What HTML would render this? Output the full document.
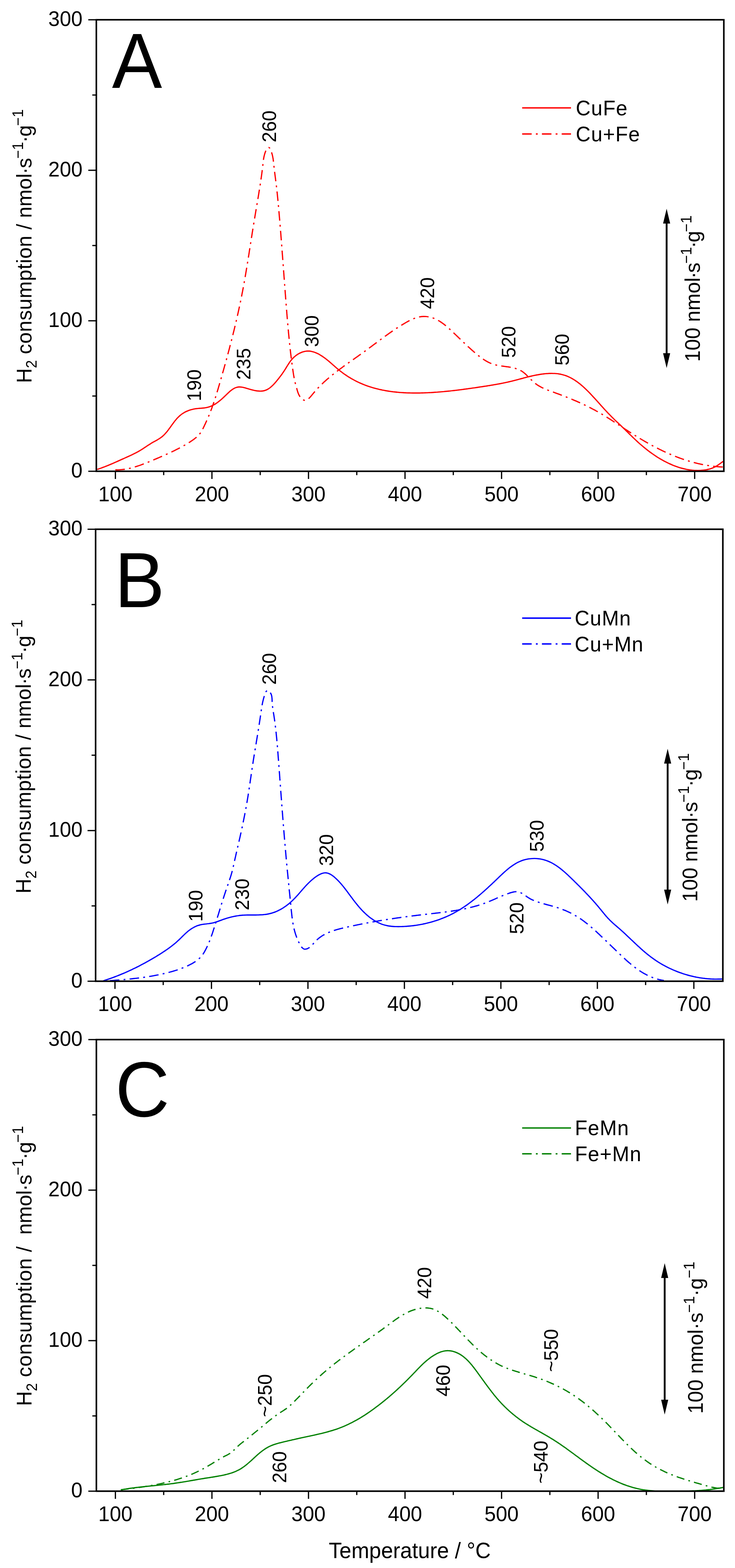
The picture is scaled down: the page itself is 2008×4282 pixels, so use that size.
<!DOCTYPE html><html><head><meta charset="utf-8"><title>H2-TPR profiles</title>
<style>html,body{margin:0;padding:0;background:#fff;overflow:hidden;}svg{display:block;}text{font-family:'Liberation Sans', Arial, sans-serif;fill:#000;}</style></head><body>
<svg width="2008" height="4282" viewBox="0 0 2008 4282">
<rect width="2008" height="4282" fill="#fff"/>
<clipPath id="clipA"><rect x="263.2" y="49.0" width="1714.3" height="1238.0"/></clipPath>
<g clip-path="url(#clipA)" fill="none" stroke="#ff0000" stroke-width="3.4" stroke-linejoin="round">
<path d="M265.5,1281.9 C266.5,1281.6 269.4,1280.6 271.3,1280.0 C273.2,1279.3 275.1,1278.7 277.0,1278.0 C278.9,1277.3 280.7,1276.6 282.6,1275.9 C284.5,1275.2 286.4,1274.5 288.3,1273.7 C290.1,1273.0 292.0,1272.3 293.9,1271.5 C295.7,1270.7 297.6,1270.0 299.4,1269.2 C301.3,1268.4 303.1,1267.6 305.0,1266.9 C306.8,1266.1 308.7,1265.3 310.5,1264.5 C312.4,1263.7 314.2,1262.8 316.1,1262.0 C317.9,1261.2 319.7,1260.4 321.6,1259.6 C323.4,1258.8 325.2,1257.9 327.1,1257.1 C328.9,1256.3 330.7,1255.5 332.6,1254.6 C334.4,1253.8 336.3,1253.0 338.1,1252.2 C339.9,1251.3 341.8,1250.5 343.6,1249.7 C345.4,1248.9 347.3,1248.1 349.1,1247.2 C350.9,1246.4 352.8,1245.6 354.6,1244.7 C356.4,1243.9 358.2,1243.0 360.0,1242.2 C361.9,1241.3 363.7,1240.4 365.5,1239.5 C367.3,1238.6 369.1,1237.7 370.9,1236.8 C372.6,1235.9 374.4,1234.9 376.2,1234.0 C378.0,1233.0 379.7,1232.0 381.4,1231.0 C383.2,1230.0 384.9,1229.0 386.6,1227.9 C388.3,1226.8 390.0,1225.7 391.7,1224.6 C393.4,1223.5 395.0,1222.4 396.7,1221.3 C398.4,1220.2 400.0,1219.0 401.7,1217.9 C403.4,1216.8 405.1,1215.7 406.8,1214.6 C408.4,1213.5 410.1,1212.4 411.9,1211.4 C413.6,1210.3 415.3,1209.3 417.1,1208.3 C418.8,1207.3 420.6,1206.4 422.3,1205.4 C424.1,1204.4 425.9,1203.5 427.6,1202.5 C429.3,1201.5 431.1,1200.5 432.8,1199.4 C434.5,1198.4 436.2,1197.3 437.9,1196.1 C439.5,1195.0 441.2,1193.8 442.7,1192.6 C444.3,1191.3 445.8,1190.0 447.3,1188.6 C448.7,1187.2 450.1,1185.7 451.5,1184.2 C452.8,1182.8 454.1,1181.2 455.4,1179.7 C456.7,1178.1 457.9,1176.5 459.1,1174.9 C460.3,1173.3 461.5,1171.7 462.7,1170.1 C463.9,1168.5 465.1,1166.8 466.3,1165.2 C467.4,1163.6 468.6,1161.9 469.8,1160.3 C471.0,1158.7 472.2,1157.0 473.4,1155.4 C474.6,1153.8 475.8,1152.2 477.0,1150.6 C478.3,1149.1 479.5,1147.5 480.8,1146.0 C482.1,1144.4 483.4,1142.9 484.8,1141.4 C486.2,1140.0 487.6,1138.5 489.1,1137.2 C490.5,1135.8 492.1,1134.5 493.6,1133.2 C495.2,1131.9 496.8,1130.7 498.5,1129.6 C500.1,1128.5 501.8,1127.4 503.6,1126.4 C505.3,1125.4 507.1,1124.5 509.0,1123.6 C510.8,1122.8 512.6,1122.0 514.5,1121.3 C516.4,1120.6 518.3,1119.9 520.2,1119.3 C522.1,1118.7 524.1,1118.2 526.0,1117.8 C528.0,1117.3 530.0,1116.9 532.0,1116.6 C533.9,1116.3 535.9,1116.0 537.9,1115.8 C539.9,1115.5 541.9,1115.4 543.9,1115.2 C545.9,1115.0 547.9,1114.9 550.0,1114.8 C552.0,1114.6 554.0,1114.4 556.0,1114.2 C558.0,1114.0 560.0,1113.8 561.9,1113.4 C563.9,1113.1 565.9,1112.7 567.8,1112.2 C569.8,1111.7 571.7,1111.1 573.6,1110.4 C575.5,1109.7 577.4,1108.9 579.2,1108.1 C581.0,1107.2 582.8,1106.3 584.6,1105.3 C586.3,1104.4 588.0,1103.3 589.7,1102.2 C591.4,1101.1 593.0,1100.0 594.7,1098.8 C596.3,1097.6 597.9,1096.3 599.4,1095.1 C601.0,1093.8 602.5,1092.5 604.1,1091.2 C605.6,1089.9 607.1,1088.5 608.6,1087.2 C610.0,1085.8 611.5,1084.4 613.0,1083.1 C614.4,1081.7 615.9,1080.3 617.3,1078.9 C618.8,1077.5 620.2,1076.1 621.6,1074.7 C623.1,1073.3 624.6,1071.9 626.1,1070.6 C627.6,1069.2 629.1,1067.9 630.7,1066.7 C632.2,1065.4 633.8,1064.2 635.5,1063.1 C637.2,1062.0 638.9,1060.9 640.7,1060.1 C642.5,1059.2 644.4,1058.4 646.3,1057.9 C648.3,1057.3 650.3,1057.0 652.3,1056.8 C654.3,1056.7 656.3,1056.8 658.3,1057.0 C660.3,1057.2 662.3,1057.5 664.3,1057.9 C666.2,1058.3 668.2,1058.9 670.1,1059.4 C672.1,1059.9 674.0,1060.5 675.9,1061.1 C677.8,1061.6 679.8,1062.2 681.7,1062.8 C683.6,1063.4 685.6,1063.9 687.5,1064.4 C689.4,1065.0 691.4,1065.4 693.4,1065.9 C695.3,1066.3 697.3,1066.7 699.3,1067.0 C701.3,1067.4 703.3,1067.6 705.3,1067.8 C707.3,1068.0 709.3,1068.1 711.3,1068.1 C713.3,1068.1 715.3,1068.0 717.3,1067.7 C719.3,1067.4 721.3,1067.0 723.2,1066.5 C725.1,1065.9 727.0,1065.2 728.8,1064.4 C730.7,1063.5 732.4,1062.5 734.1,1061.4 C735.8,1060.3 737.4,1059.1 739.0,1057.8 C740.5,1056.6 742.0,1055.2 743.5,1053.8 C744.9,1052.5 746.4,1051.0 747.7,1049.6 C749.1,1048.1 750.5,1046.6 751.8,1045.1 C753.1,1043.6 754.4,1042.0 755.7,1040.5 C757.0,1039.0 758.3,1037.4 759.5,1035.8 C760.8,1034.3 762.1,1032.7 763.3,1031.1 C764.5,1029.5 765.7,1027.9 766.9,1026.3 C768.1,1024.7 769.3,1023.1 770.5,1021.4 C771.7,1019.8 772.8,1018.1 773.9,1016.5 C775.1,1014.8 776.2,1013.1 777.3,1011.4 C778.3,1009.7 779.4,1008.0 780.5,1006.3 C781.5,1004.6 782.6,1002.9 783.6,1001.2 C784.7,999.5 785.7,997.8 786.8,996.1 C787.9,994.4 789.0,992.7 790.1,991.0 C791.2,989.4 792.4,987.7 793.6,986.1 C794.8,984.5 796.1,982.9 797.4,981.4 C798.7,979.9 800.1,978.4 801.5,977.0 C802.9,975.6 804.4,974.2 806.0,973.0 C807.5,971.7 809.1,970.4 810.8,969.3 C812.4,968.2 814.1,967.1 815.9,966.1 C817.6,965.1 819.4,964.2 821.3,963.4 C823.1,962.5 825.0,961.8 826.9,961.2 C828.8,960.6 830.8,960.1 832.7,959.7 C834.7,959.3 836.7,959.0 838.7,958.8 C840.7,958.7 842.7,958.7 844.7,958.8 C846.7,958.9 848.7,959.2 850.7,959.6 C852.7,960.0 854.6,960.5 856.6,961.1 C858.5,961.6 860.4,962.3 862.2,963.1 C864.1,963.8 865.9,964.7 867.7,965.6 C869.5,966.5 871.3,967.4 873.1,968.4 C874.8,969.4 876.5,970.5 878.2,971.5 C879.9,972.6 881.6,973.7 883.2,974.9 C884.9,976.0 886.5,977.2 888.1,978.4 C889.7,979.6 891.3,980.9 892.9,982.1 C894.5,983.4 896.0,984.6 897.6,985.9 C899.1,987.2 900.7,988.5 902.2,989.8 C903.7,991.2 905.2,992.5 906.7,993.8 C908.2,995.1 909.7,996.5 911.3,997.8 C912.8,999.1 914.3,1000.5 915.8,1001.8 C917.3,1003.1 918.8,1004.4 920.3,1005.7 C921.9,1007.0 923.4,1008.3 925.0,1009.6 C926.5,1010.9 928.1,1012.1 929.7,1013.4 C931.3,1014.6 932.9,1015.8 934.5,1017.0 C936.1,1018.2 937.7,1019.4 939.3,1020.6 C941.0,1021.8 942.6,1022.9 944.3,1024.0 C946.0,1025.2 947.6,1026.3 949.3,1027.4 C951.0,1028.5 952.7,1029.5 954.4,1030.6 C956.2,1031.6 957.9,1032.7 959.6,1033.7 C961.4,1034.7 963.1,1035.7 964.9,1036.6 C966.6,1037.6 968.4,1038.6 970.2,1039.5 C972.0,1040.4 973.8,1041.3 975.6,1042.2 C977.4,1043.1 979.2,1044.0 981.0,1044.8 C982.9,1045.6 984.7,1046.5 986.5,1047.2 C988.4,1048.0 990.2,1048.8 992.1,1049.6 C994.0,1050.3 995.9,1051.1 997.7,1051.8 C999.6,1052.5 1001.5,1053.2 1003.4,1053.9 C1005.3,1054.5 1007.2,1055.2 1009.1,1055.8 C1011.0,1056.4 1012.9,1057.0 1014.9,1057.6 C1016.8,1058.2 1018.7,1058.8 1020.6,1059.3 C1022.6,1059.9 1024.5,1060.4 1026.5,1060.9 C1028.4,1061.5 1030.4,1061.9 1032.3,1062.4 C1034.3,1062.9 1036.2,1063.3 1038.2,1063.8 C1040.1,1064.2 1042.1,1064.6 1044.1,1065.1 C1046.1,1065.5 1048.0,1065.8 1050.0,1066.2 C1052.0,1066.6 1054.0,1066.9 1055.9,1067.3 C1057.9,1067.6 1059.9,1067.9 1061.9,1068.2 C1063.9,1068.5 1065.9,1068.8 1067.9,1069.1 C1069.9,1069.4 1071.9,1069.6 1073.9,1069.9 C1075.9,1070.1 1077.9,1070.3 1079.9,1070.5 C1081.9,1070.8 1083.9,1071.0 1085.9,1071.1 C1087.9,1071.3 1089.9,1071.5 1091.9,1071.7 C1093.9,1071.8 1095.9,1072.0 1097.9,1072.1 C1099.9,1072.2 1101.9,1072.4 1103.9,1072.5 C1105.9,1072.6 1107.9,1072.7 1109.9,1072.8 C1111.9,1072.8 1114.0,1072.9 1116.0,1073.0 C1118.0,1073.0 1120.0,1073.1 1122.0,1073.1 C1124.0,1073.2 1126.0,1073.2 1128.0,1073.2 C1130.0,1073.3 1132.1,1073.3 1134.1,1073.3 C1136.1,1073.3 1138.1,1073.3 1140.1,1073.2 C1142.1,1073.2 1144.1,1073.2 1146.1,1073.2 C1148.1,1073.1 1150.2,1073.1 1152.2,1073.0 C1154.2,1073.0 1156.2,1072.9 1158.2,1072.9 C1160.2,1072.8 1162.2,1072.7 1164.2,1072.6 C1166.2,1072.6 1168.2,1072.5 1170.3,1072.4 C1172.3,1072.3 1174.3,1072.2 1176.3,1072.1 C1178.3,1071.9 1180.3,1071.8 1182.3,1071.7 C1184.3,1071.6 1186.3,1071.4 1188.3,1071.3 C1190.3,1071.2 1192.3,1071.0 1194.3,1070.9 C1196.3,1070.7 1198.4,1070.6 1200.4,1070.4 C1202.4,1070.2 1204.4,1070.1 1206.4,1069.9 C1208.4,1069.7 1210.4,1069.5 1212.4,1069.4 C1214.4,1069.2 1216.4,1069.0 1218.4,1068.8 C1220.4,1068.6 1222.4,1068.4 1224.4,1068.2 C1226.4,1068.0 1228.4,1067.8 1230.4,1067.6 C1232.4,1067.3 1234.4,1067.1 1236.4,1066.9 C1238.4,1066.7 1240.4,1066.4 1242.4,1066.2 C1244.4,1066.0 1246.4,1065.7 1248.4,1065.5 C1250.4,1065.2 1252.4,1065.0 1254.4,1064.7 C1256.4,1064.5 1258.4,1064.2 1260.3,1064.0 C1262.3,1063.7 1264.3,1063.5 1266.3,1063.2 C1268.3,1062.9 1270.3,1062.7 1272.3,1062.4 C1274.3,1062.1 1276.3,1061.9 1278.3,1061.6 C1280.3,1061.3 1282.3,1061.0 1284.3,1060.8 C1286.3,1060.5 1288.2,1060.2 1290.2,1059.9 C1292.2,1059.6 1294.2,1059.3 1296.2,1059.1 C1298.2,1058.8 1300.2,1058.5 1302.2,1058.2 C1304.2,1057.9 1306.2,1057.6 1308.2,1057.3 C1310.1,1057.0 1312.1,1056.7 1314.1,1056.4 C1316.1,1056.1 1318.1,1055.8 1320.1,1055.5 C1322.1,1055.2 1324.1,1054.9 1326.1,1054.6 C1328.0,1054.3 1330.0,1054.0 1332.0,1053.7 C1334.0,1053.4 1336.0,1053.0 1338.0,1052.7 C1340.0,1052.4 1341.9,1052.1 1343.9,1051.7 C1345.9,1051.4 1347.9,1051.1 1349.9,1050.7 C1351.9,1050.4 1353.8,1050.0 1355.8,1049.7 C1357.8,1049.3 1359.8,1049.0 1361.7,1048.6 C1363.7,1048.2 1365.7,1047.8 1367.7,1047.5 C1369.7,1047.1 1371.6,1046.7 1373.6,1046.3 C1375.6,1045.9 1377.5,1045.5 1379.5,1045.1 C1381.5,1044.7 1383.4,1044.2 1385.4,1043.8 C1387.4,1043.4 1389.3,1042.9 1391.3,1042.5 C1393.2,1042.0 1395.2,1041.5 1397.2,1041.1 C1399.1,1040.6 1401.1,1040.1 1403.0,1039.6 C1405.0,1039.1 1406.9,1038.6 1408.9,1038.1 C1410.8,1037.6 1412.7,1037.1 1414.7,1036.6 C1416.6,1036.1 1418.6,1035.6 1420.5,1035.0 C1422.5,1034.5 1424.4,1034.0 1426.4,1033.5 C1428.3,1033.0 1430.2,1032.4 1432.2,1031.9 C1434.1,1031.4 1436.1,1030.9 1438.0,1030.4 C1440.0,1029.9 1441.9,1029.4 1443.9,1028.9 C1445.8,1028.5 1447.8,1028.0 1449.7,1027.5 C1451.7,1027.1 1453.7,1026.6 1455.6,1026.2 C1457.6,1025.8 1459.6,1025.3 1461.5,1024.9 C1463.5,1024.5 1465.5,1024.1 1467.4,1023.8 C1469.4,1023.4 1471.4,1023.0 1473.4,1022.7 C1475.4,1022.4 1477.4,1022.1 1479.4,1021.8 C1481.3,1021.5 1483.3,1021.3 1485.3,1021.0 C1487.3,1020.8 1489.3,1020.6 1491.3,1020.4 C1493.3,1020.2 1495.3,1020.1 1497.4,1020.0 C1499.4,1019.8 1501.4,1019.8 1503.4,1019.7 C1505.4,1019.7 1507.4,1019.6 1509.4,1019.7 C1511.4,1019.7 1513.4,1019.8 1515.4,1019.9 C1517.5,1020.0 1519.5,1020.2 1521.5,1020.4 C1523.5,1020.6 1525.5,1020.8 1527.4,1021.2 C1529.4,1021.5 1531.4,1021.8 1533.4,1022.3 C1535.3,1022.7 1537.3,1023.2 1539.2,1023.8 C1541.1,1024.3 1543.1,1024.9 1545.0,1025.6 C1546.9,1026.3 1548.7,1027.0 1550.6,1027.8 C1552.4,1028.6 1554.3,1029.4 1556.1,1030.3 C1557.9,1031.1 1559.7,1032.1 1561.4,1033.0 C1563.2,1034.0 1565.0,1035.0 1566.7,1036.1 C1568.4,1037.1 1570.1,1038.2 1571.8,1039.3 C1573.4,1040.4 1575.1,1041.6 1576.7,1042.7 C1578.3,1043.9 1580.0,1045.1 1581.5,1046.3 C1583.1,1047.6 1584.7,1048.8 1586.3,1050.1 C1587.8,1051.4 1589.3,1052.7 1590.9,1054.0 C1592.4,1055.3 1593.9,1056.7 1595.4,1058.0 C1596.8,1059.4 1598.3,1060.8 1599.8,1062.2 C1601.2,1063.5 1602.7,1064.9 1604.1,1066.4 C1605.5,1067.8 1606.9,1069.2 1608.4,1070.6 C1609.8,1072.1 1611.2,1073.5 1612.6,1075.0 C1613.9,1076.4 1615.3,1077.9 1616.7,1079.4 C1618.1,1080.8 1619.4,1082.3 1620.8,1083.8 C1622.2,1085.3 1623.5,1086.7 1624.9,1088.2 C1626.2,1089.7 1627.6,1091.2 1628.9,1092.7 C1630.3,1094.2 1631.6,1095.7 1633.0,1097.2 C1634.3,1098.7 1635.7,1100.2 1637.0,1101.7 C1638.3,1103.2 1639.7,1104.7 1641.0,1106.2 C1642.4,1107.6 1643.7,1109.1 1645.1,1110.6 C1646.4,1112.1 1647.8,1113.6 1649.1,1115.1 C1650.5,1116.6 1651.8,1118.1 1653.2,1119.6 C1654.6,1121.0 1655.9,1122.5 1657.3,1124.0 C1658.7,1125.5 1660.1,1126.9 1661.4,1128.4 C1662.8,1129.8 1664.2,1131.3 1665.6,1132.7 C1667.0,1134.2 1668.4,1135.6 1669.8,1137.0 C1671.2,1138.5 1672.7,1139.9 1674.1,1141.3 C1675.5,1142.7 1677.0,1144.1 1678.4,1145.5 C1679.9,1146.9 1681.3,1148.3 1682.8,1149.7 C1684.2,1151.1 1685.7,1152.4 1687.2,1153.8 C1688.6,1155.2 1690.1,1156.6 1691.6,1158.0 C1693.0,1159.3 1694.5,1160.7 1696.0,1162.1 C1697.4,1163.5 1698.9,1164.9 1700.3,1166.3 C1701.8,1167.7 1703.2,1169.1 1704.6,1170.5 C1706.1,1171.9 1707.5,1173.3 1709.0,1174.7 C1710.4,1176.1 1711.8,1177.5 1713.3,1178.9 C1714.7,1180.3 1716.1,1181.7 1717.6,1183.2 C1719.0,1184.6 1720.4,1186.0 1721.9,1187.4 C1723.3,1188.8 1724.7,1190.2 1726.2,1191.6 C1727.6,1193.0 1729.1,1194.4 1730.5,1195.8 C1732.0,1197.2 1733.4,1198.6 1734.9,1200.0 C1736.4,1201.3 1737.8,1202.7 1739.3,1204.1 C1740.8,1205.4 1742.3,1206.8 1743.7,1208.2 C1745.2,1209.5 1746.7,1210.9 1748.2,1212.2 C1749.8,1213.5 1751.3,1214.8 1752.8,1216.1 C1754.3,1217.5 1755.9,1218.8 1757.4,1220.0 C1758.9,1221.3 1760.5,1222.6 1762.1,1223.9 C1763.6,1225.2 1765.2,1226.4 1766.8,1227.6 C1768.3,1228.9 1769.9,1230.1 1771.5,1231.3 C1773.1,1232.6 1774.7,1233.8 1776.4,1235.0 C1778.0,1236.1 1779.6,1237.3 1781.3,1238.5 C1782.9,1239.7 1784.6,1240.8 1786.2,1241.9 C1787.9,1243.1 1789.5,1244.2 1791.2,1245.3 C1792.9,1246.4 1794.6,1247.5 1796.3,1248.6 C1798.0,1249.6 1799.7,1250.7 1801.4,1251.7 C1803.2,1252.8 1804.9,1253.8 1806.6,1254.8 C1808.4,1255.8 1810.1,1256.8 1811.9,1257.7 C1813.7,1258.7 1815.4,1259.6 1817.2,1260.6 C1819.0,1261.5 1820.8,1262.4 1822.6,1263.3 C1824.4,1264.2 1826.2,1265.0 1828.1,1265.9 C1829.9,1266.7 1831.7,1267.6 1833.6,1268.4 C1835.4,1269.2 1837.3,1269.9 1839.1,1270.7 C1841.0,1271.5 1842.9,1272.2 1844.7,1272.9 C1846.6,1273.6 1848.5,1274.3 1850.4,1274.9 C1852.3,1275.6 1854.2,1276.2 1856.2,1276.8 C1858.1,1277.4 1860.0,1278.0 1861.9,1278.5 C1863.9,1279.1 1865.8,1279.6 1867.8,1280.0 C1869.7,1280.5 1871.7,1281.0 1873.7,1281.4 C1875.6,1281.8 1877.6,1282.2 1879.6,1282.5 C1881.6,1282.9 1883.6,1283.2 1885.6,1283.4 C1887.5,1283.7 1889.5,1283.9 1891.5,1284.1 C1893.5,1284.3 1895.6,1284.5 1897.6,1284.6 C1899.6,1284.7 1901.6,1284.8 1903.6,1284.8 C1905.6,1284.9 1907.6,1284.9 1909.6,1284.8 C1911.6,1284.8 1913.6,1284.7 1915.6,1284.5 C1917.7,1284.4 1919.7,1284.2 1921.7,1284.0 C1923.7,1283.8 1925.6,1283.5 1927.6,1283.2 C1929.6,1282.8 1931.6,1282.5 1933.6,1282.0 C1935.5,1281.6 1937.5,1281.1 1939.4,1280.6 C1941.3,1280.0 1943.3,1279.4 1945.1,1278.7 C1947.0,1278.0 1948.9,1277.2 1950.7,1276.3 C1952.5,1275.5 1954.3,1274.5 1956.0,1273.5 C1957.8,1272.5 1959.5,1271.4 1961.1,1270.3 C1962.8,1269.2 1964.5,1268.1 1966.1,1266.9 C1967.8,1265.7 1969.4,1264.5 1971.0,1263.4 C1972.6,1262.2 1975.1,1260.4 1975.9,1259.9"/>
<path d="M315.1,1283.0 C316.1,1283.0 319.1,1283.1 321.1,1283.1 C323.1,1283.1 325.1,1283.0 327.1,1282.9 C329.1,1282.8 331.1,1282.6 333.1,1282.4 C335.1,1282.2 337.1,1282.0 339.1,1281.7 C341.1,1281.5 343.1,1281.1 345.0,1280.8 C347.0,1280.5 349.0,1280.1 350.9,1279.7 C352.9,1279.3 354.9,1278.8 356.8,1278.4 C358.8,1277.9 360.7,1277.4 362.6,1276.9 C364.6,1276.3 366.5,1275.8 368.4,1275.2 C370.4,1274.6 372.3,1274.0 374.2,1273.4 C376.1,1272.8 378.0,1272.2 379.9,1271.5 C381.8,1270.9 383.7,1270.2 385.6,1269.5 C387.5,1268.8 389.3,1268.1 391.2,1267.4 C393.1,1266.7 395.0,1265.9 396.8,1265.2 C398.7,1264.5 400.6,1263.7 402.4,1263.0 C404.3,1262.2 406.1,1261.5 408.0,1260.7 C409.8,1259.9 411.7,1259.2 413.5,1258.4 C415.4,1257.6 417.2,1256.8 419.1,1256.1 C420.9,1255.3 422.8,1254.5 424.6,1253.7 C426.5,1252.9 428.3,1252.2 430.2,1251.4 C432.0,1250.6 433.9,1249.8 435.7,1249.0 C437.6,1248.2 439.4,1247.4 441.3,1246.6 C443.1,1245.8 444.9,1245.0 446.8,1244.2 C448.6,1243.4 450.5,1242.6 452.3,1241.8 C454.1,1241.0 455.9,1240.2 457.8,1239.3 C459.6,1238.5 461.4,1237.7 463.2,1236.8 C465.1,1236.0 466.9,1235.1 468.7,1234.3 C470.5,1233.4 472.3,1232.5 474.1,1231.7 C475.9,1230.8 477.7,1229.9 479.5,1229.0 C481.3,1228.1 483.1,1227.2 484.9,1226.3 C486.7,1225.4 488.5,1224.5 490.3,1223.5 C492.0,1222.6 493.8,1221.7 495.6,1220.7 C497.3,1219.8 499.1,1218.8 500.9,1217.8 C502.6,1216.8 504.3,1215.8 506.1,1214.8 C507.8,1213.8 509.6,1212.8 511.3,1211.8 C513.0,1210.7 514.7,1209.7 516.4,1208.6 C518.1,1207.5 519.8,1206.4 521.4,1205.3 C523.1,1204.2 524.8,1203.1 526.4,1201.9 C528.0,1200.8 529.7,1199.6 531.3,1198.4 C532.9,1197.2 534.4,1195.9 536.0,1194.6 C537.5,1193.3 539.0,1192.0 540.4,1190.6 C541.8,1189.2 543.2,1187.7 544.5,1186.2 C545.8,1184.6 547.0,1183.0 548.2,1181.4 C549.3,1179.7 550.3,1178.0 551.3,1176.3 C552.3,1174.5 553.2,1172.7 554.2,1171.0 C555.1,1169.2 556.0,1167.4 556.9,1165.6 C557.8,1163.8 558.6,1162.0 559.5,1160.1 C560.4,1158.3 561.2,1156.5 562.0,1154.7 C562.9,1152.9 563.7,1151.1 564.5,1149.2 C565.4,1147.4 566.2,1145.5 567.0,1143.7 C567.8,1141.9 568.6,1140.0 569.3,1138.2 C570.1,1136.3 570.9,1134.5 571.6,1132.6 C572.4,1130.7 573.1,1128.9 573.9,1127.0 C574.6,1125.2 575.3,1123.3 576.0,1121.4 C576.8,1119.5 577.5,1117.7 578.2,1115.8 C578.9,1113.9 579.6,1112.0 580.2,1110.1 C580.9,1108.2 581.6,1106.3 582.2,1104.4 C582.9,1102.5 583.6,1100.7 584.2,1098.8 C584.9,1096.9 585.5,1094.9 586.1,1093.0 C586.7,1091.1 587.4,1089.2 588.0,1087.3 C588.6,1085.4 589.2,1083.5 589.8,1081.6 C590.4,1079.7 591.0,1077.7 591.6,1075.8 C592.2,1073.9 592.8,1072.0 593.3,1070.1 C593.9,1068.1 594.5,1066.2 595.1,1064.3 C595.6,1062.4 596.2,1060.5 596.8,1058.5 C597.3,1056.6 597.9,1054.7 598.5,1052.7 C599.0,1050.8 599.6,1048.9 600.1,1047.0 C600.7,1045.0 601.3,1043.1 601.8,1041.2 C602.4,1039.3 602.9,1037.3 603.5,1035.4 C604.0,1033.5 604.6,1031.5 605.1,1029.6 C605.7,1027.7 606.3,1025.8 606.8,1023.8 C607.4,1021.9 607.9,1020.0 608.4,1018.0 C609.0,1016.1 609.5,1014.2 610.1,1012.2 C610.6,1010.3 611.2,1008.4 611.7,1006.4 C612.3,1004.5 612.8,1002.6 613.3,1000.6 C613.9,998.7 614.4,996.8 615.0,994.8 C615.5,992.9 616.0,991.0 616.6,989.0 C617.1,987.1 617.6,985.2 618.2,983.2 C618.7,981.3 619.2,979.4 619.7,977.4 C620.3,975.5 620.8,973.6 621.3,971.6 C621.8,969.7 622.4,967.7 622.9,965.8 C623.4,963.9 623.9,961.9 624.4,960.0 C625.0,958.1 625.5,956.1 626.0,954.2 C626.5,952.2 627.0,950.3 627.5,948.4 C628.0,946.4 628.5,944.5 629.0,942.5 C629.5,940.6 630.1,938.6 630.6,936.7 C631.1,934.8 631.6,932.8 632.1,930.9 C632.6,928.9 633.0,927.0 633.5,925.0 C634.0,923.1 634.5,921.1 635.0,919.2 C635.5,917.3 636.0,915.3 636.5,913.4 C637.0,911.4 637.4,909.5 637.9,907.5 C638.4,905.6 638.9,903.6 639.4,901.7 C639.8,899.7 640.3,897.8 640.8,895.8 C641.3,893.9 641.7,891.9 642.2,890.0 C642.7,888.0 643.1,886.1 643.6,884.1 C644.1,882.2 644.5,880.2 645.0,878.2 C645.4,876.3 645.9,874.3 646.3,872.4 C646.8,870.4 647.2,868.5 647.7,866.5 C648.1,864.6 648.6,862.6 649.0,860.6 C649.5,858.7 649.9,856.7 650.3,854.8 C650.8,852.8 651.2,850.9 651.6,848.9 C652.1,846.9 652.5,845.0 652.9,843.0 C653.3,841.0 653.8,839.1 654.2,837.1 C654.6,835.2 655.0,833.2 655.4,831.2 C655.9,829.3 656.3,827.3 656.7,825.3 C657.1,823.4 657.5,821.4 657.9,819.4 C658.3,817.5 658.7,815.5 659.1,813.5 C659.5,811.6 659.9,809.6 660.3,807.6 C660.7,805.7 661.0,803.7 661.4,801.7 C661.8,799.8 662.2,797.8 662.6,795.8 C662.9,793.9 663.3,791.9 663.7,789.9 C664.1,787.9 664.4,786.0 664.8,784.0 C665.2,782.0 665.5,780.0 665.9,778.1 C666.2,776.1 666.6,774.1 667.0,772.1 C667.3,770.2 667.7,768.2 668.0,766.2 C668.4,764.2 668.7,762.3 669.1,760.3 C669.4,758.3 669.8,756.3 670.1,754.4 C670.4,752.4 670.8,750.4 671.1,748.4 C671.4,746.4 671.8,744.5 672.1,742.5 C672.5,740.5 672.8,738.5 673.1,736.6 C673.4,734.6 673.8,732.6 674.1,730.6 C674.4,728.6 674.8,726.7 675.1,724.7 C675.4,722.7 675.7,720.7 676.0,718.7 C676.4,716.8 676.7,714.8 677.0,712.8 C677.3,710.8 677.6,708.8 678.0,706.8 C678.3,704.9 678.6,702.9 678.9,700.9 C679.2,698.9 679.5,696.9 679.9,695.0 C680.2,693.0 680.5,691.0 680.8,689.0 C681.1,687.0 681.4,685.0 681.7,683.1 C682.0,681.1 682.4,679.1 682.7,677.1 C683.0,675.1 683.3,673.1 683.6,671.2 C683.9,669.2 684.2,667.2 684.5,665.2 C684.9,663.2 685.2,661.3 685.5,659.3 C685.8,657.3 686.1,655.3 686.4,653.3 C686.7,651.3 687.0,649.4 687.3,647.4 C687.7,645.4 688.0,643.4 688.3,641.4 C688.6,639.4 688.9,637.5 689.2,635.5 C689.5,633.5 689.9,631.5 690.2,629.5 C690.5,627.6 690.8,625.6 691.1,623.6 C691.5,621.6 691.8,619.6 692.1,617.6 C692.4,615.7 692.7,613.7 693.1,611.7 C693.4,609.7 693.7,607.7 694.0,605.8 C694.4,603.8 694.7,601.8 695.0,599.8 C695.4,597.8 695.7,595.9 696.0,593.9 C696.3,591.9 696.7,589.9 697.0,588.0 C697.3,586.0 697.7,584.0 698.0,582.0 C698.3,580.0 698.7,578.1 699.0,576.1 C699.4,574.1 699.7,572.1 700.0,570.1 C700.4,568.2 700.7,566.2 701.0,564.2 C701.4,562.2 701.7,560.3 702.0,558.3 C702.4,556.3 702.7,554.3 703.0,552.3 C703.4,550.4 703.7,548.4 704.0,546.4 C704.4,544.4 704.7,542.4 705.0,540.5 C705.4,538.5 705.7,536.5 706.0,534.5 C706.3,532.5 706.7,530.6 707.0,528.6 C707.3,526.6 707.6,524.6 707.9,522.6 C708.3,520.7 708.6,518.7 708.9,516.7 C709.2,514.7 709.5,512.7 709.8,510.7 C710.1,508.8 710.4,506.8 710.8,504.8 C711.1,502.8 711.4,500.8 711.7,498.8 C712.0,496.9 712.3,494.9 712.5,492.9 C712.8,490.9 713.1,488.9 713.4,486.9 C713.7,484.9 714.0,483.0 714.3,481.0 C714.5,479.0 714.8,477.0 715.1,475.0 C715.3,473.0 715.6,471.0 715.9,469.0 C716.1,467.0 716.4,465.1 716.6,463.1 C716.9,461.1 717.1,459.1 717.4,457.1 C717.6,455.1 717.8,453.1 718.1,451.1 C718.3,449.1 718.5,447.1 718.7,445.1 C718.9,443.1 719.1,441.1 719.4,439.1 C719.6,437.1 719.9,435.2 720.2,433.2 C720.5,431.2 720.9,429.2 721.3,427.3 C721.8,425.3 722.3,423.4 722.8,421.4 C723.4,419.5 724.0,417.6 724.7,415.7 C725.4,413.8 726.1,412.0 727.0,410.2 C727.9,408.4 728.7,406.2 730.1,405.0 C731.4,403.8 733.6,402.5 735.1,403.0 C736.5,403.5 737.7,406.0 738.7,407.8 C739.6,409.5 740.3,411.4 741.0,413.3 C741.7,415.2 742.3,417.1 742.8,419.0 C743.4,421.0 743.9,422.9 744.4,424.9 C744.8,426.8 745.2,428.8 745.6,430.8 C746.0,432.7 746.3,434.7 746.5,436.7 C746.8,438.7 747.0,440.7 747.2,442.7 C747.5,444.7 747.6,446.7 747.9,448.7 C748.1,450.7 748.3,452.7 748.5,454.7 C748.7,456.7 748.9,458.6 749.2,460.6 C749.4,462.6 749.6,464.6 749.9,466.6 C750.1,468.6 750.4,470.6 750.6,472.6 C750.9,474.6 751.1,476.6 751.4,478.6 C751.6,480.6 751.9,482.5 752.2,484.5 C752.4,486.5 752.7,488.5 752.9,490.5 C753.2,492.5 753.4,494.5 753.7,496.5 C753.9,498.5 754.2,500.5 754.4,502.5 C754.7,504.4 754.9,506.4 755.2,508.4 C755.4,510.4 755.6,512.4 755.9,514.4 C756.1,516.4 756.3,518.4 756.5,520.4 C756.7,522.4 757.0,524.4 757.2,526.4 C757.4,528.4 757.6,530.4 757.8,532.4 C758.0,534.4 758.2,536.4 758.4,538.4 C758.6,540.4 758.8,542.3 759.0,544.3 C759.2,546.3 759.4,548.3 759.6,550.3 C759.8,552.3 759.9,554.3 760.1,556.3 C760.3,558.3 760.5,560.3 760.7,562.3 C760.9,564.3 761.0,566.3 761.2,568.3 C761.4,570.3 761.6,572.3 761.7,574.3 C761.9,576.3 762.1,578.3 762.3,580.3 C762.4,582.3 762.6,584.3 762.8,586.3 C763.0,588.3 763.1,590.3 763.3,592.3 C763.5,594.3 763.7,596.3 763.8,598.3 C764.0,600.3 764.2,602.3 764.3,604.3 C764.5,606.3 764.7,608.3 764.8,610.3 C765.0,612.3 765.2,614.3 765.3,616.3 C765.5,618.3 765.7,620.3 765.8,622.3 C766.0,624.3 766.1,626.3 766.3,628.3 C766.5,630.3 766.6,632.3 766.8,634.3 C766.9,636.3 767.1,638.3 767.3,640.3 C767.4,642.3 767.6,644.3 767.7,646.3 C767.9,648.3 768.1,650.3 768.2,652.3 C768.4,654.3 768.5,656.3 768.7,658.3 C768.8,660.3 769.0,662.3 769.1,664.3 C769.3,666.3 769.5,668.3 769.6,670.3 C769.8,672.3 769.9,674.3 770.1,676.3 C770.2,678.3 770.4,680.3 770.5,682.3 C770.7,684.3 770.8,686.3 771.0,688.3 C771.1,690.3 771.3,692.3 771.4,694.3 C771.6,696.3 771.7,698.3 771.9,700.3 C772.0,702.3 772.2,704.3 772.3,706.3 C772.5,708.3 772.6,710.3 772.8,712.3 C772.9,714.4 773.1,716.4 773.2,718.4 C773.4,720.4 773.5,722.4 773.7,724.4 C773.8,726.4 774.0,728.4 774.1,730.4 C774.3,732.4 774.4,734.4 774.6,736.4 C774.7,738.4 774.9,740.4 775.0,742.4 C775.2,744.4 775.3,746.4 775.5,748.4 C775.6,750.4 775.8,752.4 775.9,754.4 C776.1,756.4 776.2,758.4 776.4,760.4 C776.5,762.4 776.7,764.4 776.8,766.4 C776.9,768.4 777.1,770.4 777.2,772.4 C777.4,774.4 777.5,776.4 777.7,778.4 C777.8,780.4 778.0,782.4 778.1,784.4 C778.3,786.4 778.4,788.4 778.6,790.4 C778.8,792.4 778.9,794.4 779.1,796.4 C779.2,798.4 779.4,800.4 779.5,802.4 C779.7,804.4 779.8,806.4 780.0,808.4 C780.1,810.4 780.3,812.4 780.4,814.4 C780.6,816.4 780.7,818.4 780.9,820.4 C781.0,822.4 781.2,824.4 781.4,826.4 C781.5,828.4 781.7,830.4 781.8,832.4 C782.0,834.4 782.1,836.4 782.3,838.4 C782.5,840.4 782.6,842.4 782.8,844.4 C782.9,846.4 783.1,848.4 783.3,850.4 C783.4,852.4 783.6,854.4 783.7,856.4 C783.9,858.4 784.1,860.4 784.2,862.4 C784.4,864.4 784.6,866.4 784.7,868.4 C784.9,870.4 785.1,872.4 785.2,874.4 C785.4,876.4 785.6,878.4 785.7,880.4 C785.9,882.4 786.1,884.4 786.3,886.4 C786.4,888.4 786.6,890.4 786.8,892.4 C787.0,894.4 787.1,896.4 787.3,898.4 C787.5,900.4 787.7,902.4 787.9,904.4 C788.0,906.4 788.2,908.4 788.4,910.4 C788.6,912.4 788.8,914.4 789.0,916.4 C789.2,918.4 789.4,920.4 789.6,922.4 C789.8,924.4 790.0,926.4 790.2,928.4 C790.4,930.4 790.6,932.4 790.8,934.4 C791.0,936.4 791.2,938.4 791.4,940.4 C791.6,942.4 791.8,944.4 792.0,946.3 C792.2,948.3 792.5,950.3 792.7,952.3 C792.9,954.3 793.1,956.3 793.4,958.3 C793.6,960.3 793.8,962.3 794.0,964.3 C794.3,966.3 794.5,968.3 794.8,970.3 C795.0,972.3 795.2,974.3 795.5,976.3 C795.7,978.2 796.0,980.2 796.2,982.2 C796.5,984.2 796.7,986.2 797.0,988.2 C797.3,990.2 797.5,992.2 797.8,994.2 C798.1,996.2 798.3,998.1 798.6,1000.1 C798.9,1002.1 799.2,1004.1 799.4,1006.1 C799.7,1008.1 800.0,1010.1 800.3,1012.1 C800.6,1014.0 800.9,1016.0 801.2,1018.0 C801.5,1020.0 801.8,1022.0 802.1,1024.0 C802.5,1025.9 802.8,1027.9 803.2,1029.9 C803.5,1031.9 803.9,1033.8 804.3,1035.8 C804.7,1037.8 805.1,1039.7 805.6,1041.7 C806.0,1043.6 806.5,1045.6 807.0,1047.5 C807.5,1049.5 808.1,1051.4 808.6,1053.3 C809.1,1055.3 809.7,1057.2 810.2,1059.1 C810.8,1061.1 811.3,1063.0 811.8,1064.9 C812.4,1066.9 812.9,1068.8 813.6,1070.7 C814.2,1072.6 814.9,1074.5 815.7,1076.3 C816.5,1078.1 817.4,1080.0 818.5,1081.7 C819.5,1083.4 820.7,1085.1 822.0,1086.6 C823.3,1088.1 824.7,1089.6 826.3,1090.7 C828.0,1091.8 829.9,1092.9 831.7,1093.2 C833.6,1093.5 835.8,1093.0 837.6,1092.3 C839.4,1091.6 841.1,1090.3 842.7,1089.1 C844.2,1087.8 845.6,1086.4 847.0,1084.9 C848.4,1083.5 849.6,1081.9 850.9,1080.4 C852.2,1078.8 853.5,1077.2 854.7,1075.7 C856.0,1074.1 857.3,1072.6 858.6,1071.1 C859.9,1069.5 861.2,1068.0 862.5,1066.5 C863.9,1065.0 865.2,1063.5 866.6,1062.0 C867.9,1060.6 869.3,1059.1 870.7,1057.7 C872.1,1056.2 873.5,1054.8 874.9,1053.4 C876.3,1051.9 877.8,1050.5 879.2,1049.1 C880.6,1047.7 882.1,1046.4 883.6,1045.0 C885.0,1043.6 886.5,1042.3 888.0,1040.9 C889.5,1039.6 891.0,1038.2 892.5,1036.9 C894.0,1035.6 895.5,1034.3 897.0,1033.0 C898.6,1031.7 900.1,1030.4 901.6,1029.1 C903.2,1027.8 904.7,1026.5 906.3,1025.2 C907.8,1024.0 909.4,1022.7 911.0,1021.5 C912.5,1020.2 914.1,1019.0 915.7,1017.7 C917.3,1016.5 918.9,1015.3 920.5,1014.1 C922.1,1012.8 923.7,1011.6 925.3,1010.4 C926.9,1009.2 928.5,1008.0 930.1,1006.8 C931.7,1005.6 933.3,1004.4 934.9,1003.3 C936.5,1002.1 938.2,1000.9 939.8,999.7 C941.4,998.5 943.1,997.4 944.7,996.2 C946.3,995.0 947.9,993.9 949.6,992.7 C951.2,991.5 952.9,990.4 954.5,989.2 C956.1,988.0 957.8,986.9 959.4,985.7 C961.0,984.6 962.7,983.4 964.3,982.3 C966.0,981.1 967.6,980.0 969.3,978.8 C970.9,977.6 972.5,976.5 974.2,975.3 C975.8,974.2 977.5,973.0 979.1,971.9 C980.7,970.7 982.4,969.5 984.0,968.4 C985.6,967.2 987.3,966.1 988.9,964.9 C990.5,963.7 992.2,962.5 993.8,961.4 C995.4,960.2 997.0,959.0 998.7,957.8 C1000.3,956.7 1001.9,955.5 1003.5,954.3 C1005.1,953.1 1006.8,951.9 1008.4,950.7 C1010.0,949.5 1011.6,948.3 1013.2,947.1 C1014.8,945.9 1016.4,944.7 1018.0,943.5 C1019.6,942.3 1021.2,941.1 1022.9,939.9 C1024.5,938.7 1026.1,937.5 1027.7,936.3 C1029.3,935.1 1030.9,933.9 1032.5,932.7 C1034.1,931.5 1035.7,930.3 1037.3,929.1 C1039.0,927.9 1040.6,926.7 1042.2,925.5 C1043.8,924.4 1045.4,923.2 1047.0,922.0 C1048.7,920.8 1050.3,919.6 1051.9,918.4 C1053.5,917.3 1055.2,916.1 1056.8,914.9 C1058.4,913.8 1060.1,912.6 1061.7,911.4 C1063.3,910.3 1065.0,909.1 1066.6,908.0 C1068.3,906.8 1069.9,905.7 1071.6,904.5 C1073.2,903.4 1074.9,902.3 1076.5,901.2 C1078.2,900.0 1079.9,898.9 1081.6,897.8 C1083.2,896.7 1084.9,895.6 1086.6,894.5 C1088.3,893.4 1090.0,892.4 1091.7,891.3 C1093.4,890.2 1095.1,889.2 1096.8,888.1 C1098.5,887.1 1100.2,886.0 1101.9,885.0 C1103.7,884.0 1105.4,882.9 1107.1,881.9 C1108.9,880.9 1110.6,879.9 1112.3,878.9 C1114.1,878.0 1115.9,877.0 1117.6,876.1 C1119.4,875.1 1121.2,874.2 1123.0,873.4 C1124.8,872.5 1126.6,871.7 1128.5,870.9 C1130.3,870.1 1132.2,869.4 1134.1,868.7 C1136.0,868.0 1137.9,867.4 1139.8,866.8 C1141.8,866.3 1143.7,865.8 1145.7,865.4 C1147.7,865.1 1149.6,864.7 1151.6,864.5 C1153.6,864.3 1155.6,864.2 1157.6,864.2 C1159.6,864.2 1161.7,864.3 1163.7,864.4 C1165.7,864.6 1167.7,864.8 1169.6,865.1 C1171.6,865.4 1173.6,865.9 1175.5,866.3 C1177.5,866.8 1179.4,867.4 1181.3,868.0 C1183.2,868.6 1185.1,869.3 1187.0,870.1 C1188.8,870.8 1190.6,871.7 1192.4,872.6 C1194.3,873.4 1196.0,874.4 1197.8,875.4 C1199.5,876.4 1201.2,877.4 1202.9,878.5 C1204.6,879.6 1206.3,880.7 1207.9,881.9 C1209.5,883.0 1211.2,884.2 1212.7,885.4 C1214.3,886.7 1215.9,887.9 1217.5,889.2 C1219.0,890.5 1220.5,891.8 1222.1,893.1 C1223.6,894.4 1225.1,895.7 1226.6,897.1 C1228.1,898.4 1229.5,899.8 1231.0,901.1 C1232.5,902.5 1233.9,903.9 1235.4,905.2 C1236.9,906.6 1238.3,908.0 1239.8,909.4 C1241.2,910.8 1242.7,912.1 1244.1,913.5 C1245.6,914.9 1247.0,916.3 1248.5,917.7 C1249.9,919.1 1251.4,920.5 1252.8,921.9 C1254.3,923.3 1255.7,924.7 1257.2,926.0 C1258.6,927.4 1260.0,928.8 1261.5,930.2 C1262.9,931.6 1264.4,933.0 1265.8,934.4 C1267.3,935.8 1268.7,937.2 1270.2,938.5 C1271.7,939.9 1273.1,941.3 1274.6,942.7 C1276.1,944.0 1277.5,945.4 1279.0,946.8 C1280.5,948.1 1282.0,949.5 1283.4,950.8 C1284.9,952.2 1286.4,953.5 1287.9,954.9 C1289.4,956.2 1290.9,957.5 1292.4,958.8 C1293.9,960.2 1295.5,961.5 1297.0,962.8 C1298.5,964.1 1300.0,965.4 1301.6,966.7 C1303.1,967.9 1304.7,969.2 1306.2,970.5 C1307.8,971.7 1309.4,973.0 1311.0,974.2 C1312.6,975.4 1314.2,976.6 1315.8,977.8 C1317.4,979.0 1319.1,980.1 1320.7,981.2 C1322.4,982.3 1324.1,983.4 1325.8,984.5 C1327.5,985.5 1329.2,986.5 1331.0,987.5 C1332.8,988.5 1334.6,989.4 1336.4,990.3 C1338.2,991.1 1340.0,991.9 1341.9,992.7 C1343.7,993.4 1345.6,994.1 1347.5,994.7 C1349.4,995.3 1351.4,995.9 1353.3,996.4 C1355.3,996.9 1357.2,997.3 1359.2,997.7 C1361.2,998.1 1363.2,998.4 1365.1,998.7 C1367.1,999.0 1369.1,999.3 1371.1,999.6 C1373.1,999.9 1375.1,1000.1 1377.1,1000.4 C1379.0,1000.7 1381.0,1000.9 1383.0,1001.2 C1385.0,1001.5 1387.0,1001.7 1389.0,1002.0 C1391.0,1002.3 1393.0,1002.7 1394.9,1003.0 C1396.9,1003.4 1398.9,1003.8 1400.8,1004.2 C1402.8,1004.6 1404.7,1005.1 1406.7,1005.6 C1408.6,1006.2 1410.5,1006.8 1412.4,1007.4 C1414.3,1008.1 1416.2,1008.8 1418.0,1009.7 C1419.8,1010.5 1421.6,1011.4 1423.4,1012.4 C1425.1,1013.4 1426.8,1014.5 1428.4,1015.6 C1430.1,1016.8 1431.6,1018.1 1433.2,1019.4 C1434.7,1020.7 1436.2,1022.0 1437.6,1023.4 C1439.1,1024.8 1440.5,1026.2 1441.9,1027.6 C1443.4,1029.0 1444.8,1030.5 1446.2,1031.9 C1447.6,1033.3 1449.0,1034.8 1450.4,1036.2 C1451.8,1037.6 1453.2,1039.0 1454.7,1040.4 C1456.1,1041.8 1457.6,1043.2 1459.1,1044.5 C1460.6,1045.8 1462.2,1047.0 1463.8,1048.2 C1465.4,1049.4 1467.1,1050.6 1468.7,1051.7 C1470.4,1052.8 1472.1,1053.8 1473.9,1054.8 C1475.6,1055.8 1477.4,1056.8 1479.2,1057.7 C1481.0,1058.6 1482.8,1059.5 1484.6,1060.3 C1486.4,1061.1 1488.3,1061.9 1490.1,1062.7 C1492.0,1063.5 1493.8,1064.2 1495.7,1065.0 C1497.6,1065.7 1499.4,1066.4 1501.3,1067.1 C1503.2,1067.8 1505.1,1068.5 1507.0,1069.2 C1508.9,1069.9 1510.8,1070.6 1512.6,1071.2 C1514.5,1071.9 1516.4,1072.6 1518.3,1073.3 C1520.2,1074.0 1522.1,1074.7 1524.0,1075.4 C1525.8,1076.0 1527.7,1076.7 1529.6,1077.4 C1531.5,1078.2 1533.4,1078.9 1535.2,1079.6 C1537.1,1080.3 1539.0,1081.0 1540.8,1081.7 C1542.7,1082.5 1544.6,1083.2 1546.5,1083.9 C1548.3,1084.7 1550.2,1085.4 1552.0,1086.2 C1553.9,1086.9 1555.8,1087.7 1557.6,1088.4 C1559.5,1089.2 1561.3,1089.9 1563.2,1090.7 C1565.0,1091.5 1566.9,1092.3 1568.7,1093.1 C1570.6,1093.8 1572.4,1094.6 1574.3,1095.4 C1576.1,1096.2 1577.9,1097.0 1579.8,1097.9 C1581.6,1098.7 1583.4,1099.5 1585.3,1100.3 C1587.1,1101.2 1588.9,1102.0 1590.7,1102.8 C1592.6,1103.7 1594.4,1104.5 1596.2,1105.4 C1598.0,1106.3 1599.8,1107.1 1601.6,1108.0 C1603.4,1108.9 1605.2,1109.8 1607.0,1110.7 C1608.8,1111.6 1610.6,1112.5 1612.4,1113.4 C1614.2,1114.3 1616.0,1115.2 1617.7,1116.2 C1619.5,1117.1 1621.3,1118.0 1623.0,1119.0 C1624.8,1119.9 1626.6,1120.9 1628.3,1121.9 C1630.1,1122.8 1631.8,1123.8 1633.6,1124.8 C1635.3,1125.8 1637.1,1126.8 1638.8,1127.8 C1640.5,1128.8 1642.3,1129.8 1644.0,1130.9 C1645.7,1131.9 1647.4,1132.9 1649.2,1134.0 C1650.9,1135.0 1652.6,1136.1 1654.3,1137.1 C1656.0,1138.2 1657.7,1139.2 1659.4,1140.3 C1661.1,1141.4 1662.8,1142.4 1664.5,1143.5 C1666.2,1144.6 1667.9,1145.7 1669.6,1146.8 C1671.3,1147.8 1672.9,1148.9 1674.6,1150.0 C1676.3,1151.1 1678.0,1152.2 1679.7,1153.3 C1681.3,1154.4 1683.0,1155.5 1684.7,1156.6 C1686.4,1157.7 1688.1,1158.8 1689.7,1159.9 C1691.4,1161.0 1693.1,1162.1 1694.8,1163.2 C1696.4,1164.3 1698.1,1165.4 1699.8,1166.5 C1701.5,1167.6 1703.1,1168.7 1704.8,1169.9 C1706.5,1171.0 1708.2,1172.1 1709.8,1173.2 C1711.5,1174.3 1713.2,1175.4 1714.9,1176.5 C1716.6,1177.6 1718.2,1178.6 1719.9,1179.7 C1721.6,1180.8 1723.3,1181.9 1725.0,1183.0 C1726.7,1184.1 1728.4,1185.2 1730.1,1186.2 C1731.8,1187.3 1733.5,1188.4 1735.2,1189.4 C1736.9,1190.5 1738.6,1191.6 1740.3,1192.6 C1742.0,1193.7 1743.7,1194.7 1745.4,1195.7 C1747.1,1196.8 1748.8,1197.8 1750.6,1198.9 C1752.3,1199.9 1754.0,1200.9 1755.7,1201.9 C1757.5,1203.0 1759.2,1204.0 1760.9,1205.0 C1762.7,1206.0 1764.4,1207.0 1766.2,1208.0 C1767.9,1209.0 1769.7,1209.9 1771.4,1210.9 C1773.2,1211.9 1774.9,1212.9 1776.7,1213.8 C1778.4,1214.8 1780.2,1215.8 1782.0,1216.7 C1783.7,1217.7 1785.5,1218.6 1787.3,1219.6 C1789.1,1220.5 1790.8,1221.4 1792.6,1222.3 C1794.4,1223.3 1796.2,1224.2 1798.0,1225.1 C1799.8,1226.0 1801.6,1226.9 1803.4,1227.8 C1805.2,1228.6 1807.0,1229.5 1808.8,1230.4 C1810.6,1231.3 1812.4,1232.1 1814.2,1233.0 C1816.0,1233.8 1817.9,1234.7 1819.7,1235.5 C1821.5,1236.3 1823.3,1237.2 1825.2,1238.0 C1827.0,1238.8 1828.9,1239.6 1830.7,1240.4 C1832.5,1241.2 1834.4,1242.0 1836.2,1242.7 C1838.1,1243.5 1839.9,1244.3 1841.8,1245.0 C1843.7,1245.8 1845.5,1246.5 1847.4,1247.2 C1849.3,1248.0 1851.1,1248.7 1853.0,1249.4 C1854.9,1250.1 1856.8,1250.8 1858.7,1251.5 C1860.6,1252.1 1862.5,1252.8 1864.4,1253.5 C1866.2,1254.1 1868.1,1254.8 1870.1,1255.4 C1872.0,1256.0 1873.9,1256.7 1875.8,1257.3 C1877.7,1257.9 1879.6,1258.5 1881.5,1259.0 C1883.5,1259.6 1885.4,1260.2 1887.3,1260.7 C1889.2,1261.3 1891.2,1261.8 1893.1,1262.4 C1895.0,1262.9 1897.0,1263.4 1898.9,1263.9 C1900.9,1264.4 1902.8,1264.9 1904.8,1265.4 C1906.7,1265.8 1908.7,1266.3 1910.6,1266.7 C1912.6,1267.2 1914.6,1267.6 1916.5,1268.0 C1918.5,1268.4 1920.4,1268.8 1922.4,1269.2 C1924.4,1269.5 1926.4,1269.9 1928.3,1270.3 C1930.3,1270.6 1932.3,1270.9 1934.3,1271.2 C1936.3,1271.6 1938.2,1271.9 1940.2,1272.1 C1942.2,1272.4 1944.2,1272.7 1946.2,1272.9 C1948.2,1273.2 1950.2,1273.4 1952.2,1273.6 C1954.2,1273.8 1956.2,1274.0 1958.2,1274.2 C1960.2,1274.4 1962.2,1274.6 1964.2,1274.7 C1966.2,1274.9 1968.2,1275.0 1970.2,1275.1 C1972.2,1275.2 1975.2,1275.3 1976.2,1275.4" stroke-dasharray="26 11.5 5 11.5"/>
</g>
<g stroke="#000" stroke-width="3.4" fill="none"><line x1="315.3" y1="1287.0" x2="315.3" y2="1308.0"/><line x1="579.0" y1="1287.0" x2="579.0" y2="1308.0"/><line x1="842.8" y1="1287.0" x2="842.8" y2="1308.0"/><line x1="1106.5" y1="1287.0" x2="1106.5" y2="1308.0"/><line x1="1370.3" y1="1287.0" x2="1370.3" y2="1308.0"/><line x1="1634.0" y1="1287.0" x2="1634.0" y2="1308.0"/><line x1="1897.8" y1="1287.0" x2="1897.8" y2="1308.0"/><line x1="447.2" y1="1287.0" x2="447.2" y2="1297.5"/><line x1="710.9" y1="1287.0" x2="710.9" y2="1297.5"/><line x1="974.7" y1="1287.0" x2="974.7" y2="1297.5"/><line x1="1238.4" y1="1287.0" x2="1238.4" y2="1297.5"/><line x1="1502.2" y1="1287.0" x2="1502.2" y2="1297.5"/><line x1="1765.9" y1="1287.0" x2="1765.9" y2="1297.5"/><line x1="241.2" y1="1287.0" x2="263.2" y2="1287.0"/><line x1="241.2" y1="876.0" x2="263.2" y2="876.0"/><line x1="241.2" y1="465.0" x2="263.2" y2="465.0"/><line x1="241.2" y1="54.0" x2="263.2" y2="54.0"/><line x1="252.2" y1="1081.5" x2="263.2" y2="1081.5"/><line x1="252.2" y1="670.5" x2="263.2" y2="670.5"/><line x1="252.2" y1="259.5" x2="263.2" y2="259.5"/></g>
<rect x="263.2" y="54.0" width="1714.3" height="1233.0" fill="none" stroke="#000" stroke-width="4.3"/>
<text transform="translate(315.3,1368.5) scale(1,1.040)" font-size="56" text-anchor="middle">100</text><text transform="translate(579.0,1368.5) scale(1,1.040)" font-size="56" text-anchor="middle">200</text><text transform="translate(842.8,1368.5) scale(1,1.040)" font-size="56" text-anchor="middle">300</text><text transform="translate(1106.5,1368.5) scale(1,1.040)" font-size="56" text-anchor="middle">400</text><text transform="translate(1370.3,1368.5) scale(1,1.040)" font-size="56" text-anchor="middle">500</text><text transform="translate(1634.0,1368.5) scale(1,1.040)" font-size="56" text-anchor="middle">600</text><text transform="translate(1897.8,1368.5) scale(1,1.040)" font-size="56" text-anchor="middle">700</text><text transform="translate(225.5,1304.0) scale(1,1.040)" font-size="56" text-anchor="end">0</text><text transform="translate(225.5,893.0) scale(1,1.040)" font-size="56" text-anchor="end">100</text><text transform="translate(225.5,482.0) scale(1,1.040)" font-size="56" text-anchor="end">200</text><text transform="translate(225.5,71.0) scale(1,1.040)" font-size="56" text-anchor="end">300</text>
<text transform="translate(306.0,239.5) scale(1,1.040)" font-size="205">A</text>
<line x1="1426.5" y1="294.6" x2="1560" y2="294.6" stroke="#ff0000" stroke-width="3.8"/>
<line x1="1426.5" y1="365.8" x2="1560" y2="365.8" stroke="#ff0000" stroke-width="3.8" stroke-dasharray="26 11.5 5 11.5"/>
<text transform="translate(1573.0,314.6) scale(1,1.040)" font-size="56" letter-spacing="1.3">CuFe</text>
<text transform="translate(1573.0,385.8) scale(1,1.040)" font-size="56" letter-spacing="1.3">Cu+Fe</text>
<text transform="translate(85.5,672.1) rotate(-90) scale(1,1.040)" font-size="56" text-anchor="middle">H<tspan font-size="40" dy="14">2</tspan><tspan dy="-14" letter-spacing="0.6"> consumption /</tspan> nmol<tspan dx="-2">·</tspan><tspan dx="-2">s</tspan><tspan font-size="40" dy="-22" dx="-2">−</tspan><tspan font-size="40">1</tspan><tspan dy="22" dx="-2">·</tspan><tspan dx="-2">g</tspan><tspan font-size="40" dy="-22" dx="-2">−</tspan><tspan font-size="40">1</tspan></text>
<line x1="1821.2" y1="608.5" x2="1821.2" y2="966.5" stroke="#000" stroke-width="5"/>
<path d="M1821.2,570.0 L1811.5,610.5 L1830.9,610.5 Z M1821.2,1005.0 L1811.5,964.5 L1830.9,964.5 Z" fill="#000"/>
<text transform="translate(1911.5,788.1) rotate(-90) scale(1,1.040)" font-size="56" text-anchor="middle">100 nmol<tspan dx="-3">·</tspan><tspan dx="-3">s</tspan><tspan font-size="40" dy="-22" dx="-3">−</tspan><tspan font-size="40">1</tspan><tspan dy="22" dx="-3">·</tspan><tspan dx="-3">g</tspan><tspan font-size="40" dy="-22" dx="-3">−</tspan><tspan font-size="40">1</tspan></text>
<text transform="translate(548.7,1052.3) rotate(-90) scale(1,1.040)" font-size="52" text-anchor="middle">190</text>
<text transform="translate(683.8,994.0) rotate(-90) scale(1,1.040)" font-size="52" text-anchor="middle">235</text>
<text transform="translate(754.3,345.3) rotate(-90) scale(1,1.040)" font-size="52" text-anchor="middle">260</text>
<text transform="translate(870.3,904.5) rotate(-90) scale(1,1.040)" font-size="52" text-anchor="middle">300</text>
<text transform="translate(1186.2,800.6) rotate(-90) scale(1,1.040)" font-size="52" text-anchor="middle">420</text>
<text transform="translate(1408.2,933.9) rotate(-90) scale(1,1.040)" font-size="52" text-anchor="middle">520</text>
<text transform="translate(1553.8,955.0) rotate(-90) scale(1,1.040)" font-size="52" text-anchor="middle">560</text>
<clipPath id="clipB"><rect x="261.2" y="1440.3" width="1713.6" height="1239.3"/></clipPath>
<g clip-path="url(#clipB)" fill="none" stroke="#0000ff" stroke-width="3.4" stroke-linejoin="round">
<path d="M282.0,2678.6 C282.9,2678.3 285.8,2677.4 287.7,2676.7 C289.6,2676.1 291.5,2675.5 293.4,2674.8 C295.3,2674.2 297.2,2673.5 299.1,2672.9 C301.0,2672.2 302.9,2671.6 304.8,2670.9 C306.7,2670.2 308.6,2669.5 310.5,2668.8 C312.4,2668.1 314.3,2667.4 316.1,2666.7 C318.0,2665.9 319.9,2665.2 321.8,2664.5 C323.6,2663.7 325.5,2663.0 327.4,2662.2 C329.2,2661.5 331.1,2660.7 332.9,2659.9 C334.8,2659.2 336.7,2658.4 338.5,2657.6 C340.4,2656.8 342.2,2656.0 344.0,2655.2 C345.9,2654.4 347.7,2653.6 349.6,2652.7 C351.4,2651.9 353.2,2651.1 355.0,2650.2 C356.9,2649.4 358.7,2648.5 360.5,2647.7 C362.3,2646.8 364.1,2645.9 365.9,2645.0 C367.8,2644.2 369.6,2643.3 371.4,2642.4 C373.2,2641.5 375.0,2640.6 376.8,2639.7 C378.6,2638.8 380.3,2637.9 382.1,2636.9 C383.9,2636.0 385.7,2635.1 387.5,2634.1 C389.3,2633.2 391.0,2632.3 392.8,2631.3 C394.6,2630.4 396.3,2629.4 398.1,2628.4 C399.9,2627.5 401.6,2626.5 403.4,2625.5 C405.1,2624.5 406.9,2623.5 408.6,2622.5 C410.4,2621.5 412.1,2620.5 413.9,2619.5 C415.6,2618.5 417.3,2617.5 419.1,2616.5 C420.8,2615.5 422.5,2614.4 424.3,2613.4 C426.0,2612.4 427.7,2611.3 429.4,2610.3 C431.1,2609.2 432.8,2608.2 434.6,2607.1 C436.3,2606.0 438.0,2605.0 439.7,2603.9 C441.4,2602.8 443.1,2601.7 444.7,2600.6 C446.4,2599.5 448.1,2598.4 449.8,2597.3 C451.4,2596.2 453.1,2595.0 454.8,2593.9 C456.4,2592.8 458.1,2591.6 459.7,2590.4 C461.3,2589.3 463.0,2588.1 464.6,2586.9 C466.2,2585.7 467.8,2584.5 469.4,2583.2 C471.0,2582.0 472.6,2580.8 474.1,2579.5 C475.7,2578.2 477.2,2577.0 478.8,2575.7 C480.3,2574.4 481.8,2573.0 483.3,2571.7 C484.8,2570.4 486.3,2569.0 487.8,2567.6 C489.3,2566.3 490.7,2564.9 492.1,2563.5 C493.6,2562.1 495.0,2560.6 496.4,2559.2 C497.9,2557.8 499.3,2556.4 500.7,2555.0 C502.2,2553.6 503.6,2552.2 505.1,2550.8 C506.5,2549.4 508.0,2548.0 509.5,2546.7 C511.0,2545.4 512.6,2544.1 514.1,2542.8 C515.7,2541.5 517.3,2540.3 518.9,2539.1 C520.5,2538.0 522.2,2536.8 523.9,2535.7 C525.6,2534.7 527.3,2533.6 529.1,2532.7 C530.8,2531.7 532.6,2530.8 534.5,2530.0 C536.3,2529.2 538.2,2528.4 540.1,2527.7 C542.0,2527.1 543.9,2526.5 545.8,2526.0 C547.8,2525.5 549.8,2525.1 551.7,2524.7 C553.7,2524.3 555.7,2524.1 557.7,2523.8 C559.7,2523.5 561.7,2523.3 563.7,2523.1 C565.7,2522.8 567.7,2522.6 569.7,2522.4 C571.7,2522.1 573.7,2521.9 575.7,2521.5 C577.6,2521.2 579.6,2520.8 581.6,2520.4 C583.5,2519.9 585.5,2519.4 587.4,2518.8 C589.3,2518.2 591.2,2517.6 593.2,2516.9 C595.1,2516.3 596.9,2515.6 598.8,2514.9 C600.7,2514.2 602.6,2513.5 604.5,2512.8 C606.4,2512.1 608.3,2511.4 610.2,2510.7 C612.0,2510.1 614.0,2509.4 615.9,2508.8 C617.8,2508.2 619.7,2507.6 621.6,2507.0 C623.6,2506.4 625.5,2505.9 627.4,2505.4 C629.4,2504.8 631.3,2504.3 633.3,2503.9 C635.2,2503.4 637.2,2503.0 639.2,2502.6 C641.1,2502.2 643.1,2501.8 645.1,2501.5 C647.1,2501.1 649.1,2500.8 651.1,2500.6 C653.1,2500.3 655.1,2500.0 657.1,2499.8 C659.1,2499.6 661.1,2499.5 663.1,2499.3 C665.1,2499.2 667.1,2499.1 669.1,2499.0 C671.1,2498.9 673.1,2498.9 675.1,2498.8 C677.1,2498.8 679.2,2498.8 681.2,2498.7 C683.2,2498.7 685.2,2498.7 687.2,2498.7 C689.2,2498.7 691.2,2498.7 693.2,2498.7 C695.2,2498.7 697.3,2498.7 699.3,2498.7 C701.3,2498.7 703.3,2498.6 705.3,2498.6 C707.3,2498.5 709.3,2498.4 711.3,2498.3 C713.3,2498.2 715.3,2498.1 717.4,2498.0 C719.4,2497.8 721.4,2497.6 723.4,2497.4 C725.4,2497.2 727.3,2496.9 729.3,2496.6 C731.3,2496.2 733.3,2495.9 735.3,2495.4 C737.2,2495.0 739.2,2494.5 741.1,2494.0 C743.1,2493.5 745.0,2492.9 746.9,2492.2 C748.8,2491.6 750.7,2490.9 752.5,2490.1 C754.4,2489.4 756.3,2488.6 758.1,2487.7 C759.9,2486.9 761.7,2486.0 763.5,2485.1 C765.3,2484.2 767.0,2483.2 768.8,2482.2 C770.5,2481.2 772.3,2480.1 774.0,2479.1 C775.7,2478.0 777.3,2476.9 779.0,2475.7 C780.6,2474.6 782.3,2473.4 783.9,2472.2 C785.5,2471.0 787.1,2469.7 788.6,2468.5 C790.2,2467.2 791.7,2465.9 793.2,2464.6 C794.7,2463.2 796.2,2461.9 797.7,2460.5 C799.1,2459.1 800.6,2457.7 802.0,2456.3 C803.4,2454.9 804.8,2453.4 806.2,2452.0 C807.6,2450.5 809.0,2449.0 810.3,2447.6 C811.7,2446.1 813.0,2444.6 814.4,2443.1 C815.7,2441.6 817.0,2440.1 818.4,2438.5 C819.7,2437.0 821.0,2435.5 822.3,2434.0 C823.6,2432.5 825.0,2431.0 826.3,2429.4 C827.6,2427.9 828.9,2426.4 830.3,2424.9 C831.6,2423.4 832.9,2421.9 834.3,2420.4 C835.7,2418.9 837.0,2417.5 838.4,2416.0 C839.8,2414.6 841.2,2413.1 842.6,2411.7 C844.1,2410.3 845.5,2408.9 847.0,2407.5 C848.4,2406.1 849.9,2404.8 851.4,2403.5 C853.0,2402.1 854.5,2400.8 856.1,2399.6 C857.6,2398.3 859.2,2397.1 860.8,2395.9 C862.5,2394.7 864.1,2393.5 865.8,2392.4 C867.5,2391.4 869.2,2390.3 871.0,2389.3 C872.7,2388.4 874.5,2387.4 876.3,2386.6 C878.2,2385.8 880.1,2385.1 882.0,2384.6 C883.9,2384.1 886.0,2383.7 888.0,2383.6 C889.9,2383.5 892.0,2383.7 893.9,2384.2 C895.9,2384.6 897.8,2385.3 899.7,2386.1 C901.5,2386.9 903.3,2387.9 905.0,2388.9 C906.7,2390.0 908.3,2391.2 909.9,2392.4 C911.5,2393.6 913.1,2394.9 914.6,2396.2 C916.1,2397.5 917.6,2398.9 919.0,2400.3 C920.5,2401.7 921.9,2403.1 923.3,2404.5 C924.7,2405.9 926.1,2407.4 927.5,2408.9 C928.8,2410.4 930.2,2411.9 931.5,2413.4 C932.8,2414.9 934.1,2416.4 935.4,2418.0 C936.7,2419.5 938.0,2421.1 939.2,2422.7 C940.5,2424.2 941.7,2425.8 942.9,2427.4 C944.2,2429.0 945.4,2430.6 946.6,2432.2 C947.8,2433.8 949.0,2435.4 950.2,2437.0 C951.4,2438.7 952.6,2440.3 953.8,2441.9 C955.0,2443.5 956.2,2445.1 957.4,2446.7 C958.6,2448.4 959.8,2450.0 961.0,2451.6 C962.2,2453.2 963.4,2454.8 964.6,2456.4 C965.8,2458.0 967.0,2459.6 968.3,2461.2 C969.5,2462.8 970.7,2464.4 972.0,2466.0 C973.2,2467.5 974.5,2469.1 975.8,2470.7 C977.0,2472.2 978.3,2473.8 979.6,2475.3 C980.9,2476.8 982.2,2478.4 983.6,2479.9 C984.9,2481.4 986.3,2482.9 987.6,2484.3 C989.0,2485.8 990.4,2487.3 991.8,2488.7 C993.2,2490.1 994.6,2491.6 996.1,2492.9 C997.5,2494.3 999.0,2495.7 1000.5,2497.1 C1002.0,2498.4 1003.5,2499.7 1005.1,2501.0 C1006.6,2502.3 1008.2,2503.6 1009.7,2504.8 C1011.3,2506.0 1012.9,2507.2 1014.6,2508.4 C1016.2,2509.6 1017.9,2510.7 1019.6,2511.8 C1021.2,2512.9 1022.9,2514.0 1024.7,2515.0 C1026.4,2516.0 1028.2,2517.0 1029.9,2518.0 C1031.7,2518.9 1033.5,2519.8 1035.4,2520.6 C1037.2,2521.5 1039.0,2522.3 1040.9,2523.0 C1042.8,2523.7 1044.7,2524.4 1046.6,2525.0 C1048.5,2525.6 1050.4,2526.2 1052.4,2526.7 C1054.3,2527.2 1056.3,2527.6 1058.3,2528.0 C1060.2,2528.4 1062.2,2528.7 1064.2,2529.0 C1066.2,2529.3 1068.2,2529.5 1070.2,2529.7 C1072.2,2529.9 1074.2,2530.1 1076.2,2530.2 C1078.2,2530.3 1080.2,2530.4 1082.3,2530.4 C1084.3,2530.5 1086.3,2530.5 1088.3,2530.5 C1090.3,2530.5 1092.3,2530.5 1094.3,2530.4 C1096.3,2530.4 1098.3,2530.3 1100.4,2530.2 C1102.4,2530.2 1104.4,2530.1 1106.4,2529.9 C1108.4,2529.8 1110.4,2529.7 1112.4,2529.5 C1114.4,2529.4 1116.4,2529.2 1118.4,2529.0 C1120.4,2528.8 1122.4,2528.6 1124.4,2528.4 C1126.4,2528.2 1128.4,2528.0 1130.4,2527.7 C1132.4,2527.4 1134.4,2527.2 1136.4,2526.9 C1138.4,2526.6 1140.4,2526.3 1142.3,2525.9 C1144.3,2525.6 1146.3,2525.3 1148.3,2524.9 C1150.3,2524.5 1152.2,2524.2 1154.2,2523.8 C1156.2,2523.4 1158.2,2523.0 1160.1,2522.5 C1162.1,2522.1 1164.0,2521.6 1166.0,2521.2 C1168.0,2520.7 1169.9,2520.2 1171.9,2519.7 C1173.8,2519.2 1175.7,2518.7 1177.7,2518.1 C1179.6,2517.6 1181.6,2517.0 1183.5,2516.5 C1185.4,2515.9 1187.3,2515.3 1189.2,2514.7 C1191.2,2514.1 1193.1,2513.4 1195.0,2512.8 C1196.9,2512.2 1198.8,2511.5 1200.7,2510.8 C1202.6,2510.1 1204.4,2509.4 1206.3,2508.7 C1208.2,2508.0 1210.1,2507.2 1211.9,2506.5 C1213.8,2505.7 1215.7,2504.9 1217.5,2504.2 C1219.3,2503.4 1221.2,2502.5 1223.0,2501.7 C1224.9,2500.9 1226.7,2500.0 1228.5,2499.2 C1230.3,2498.3 1232.1,2497.4 1233.9,2496.5 C1235.7,2495.6 1237.5,2494.7 1239.3,2493.7 C1241.0,2492.8 1242.8,2491.8 1244.6,2490.8 C1246.3,2489.9 1248.1,2488.9 1249.8,2487.9 C1251.5,2486.8 1253.3,2485.8 1255.0,2484.8 C1256.7,2483.7 1258.4,2482.7 1260.1,2481.6 C1261.8,2480.5 1263.5,2479.4 1265.2,2478.3 C1266.9,2477.2 1268.5,2476.1 1270.2,2475.0 C1271.9,2473.8 1273.5,2472.7 1275.2,2471.5 C1276.8,2470.4 1278.4,2469.2 1280.1,2468.0 C1281.7,2466.8 1283.3,2465.6 1284.9,2464.4 C1286.5,2463.2 1288.1,2462.0 1289.7,2460.8 C1291.3,2459.6 1292.9,2458.3 1294.5,2457.1 C1296.1,2455.8 1297.6,2454.6 1299.2,2453.3 C1300.8,2452.1 1302.3,2450.8 1303.9,2449.5 C1305.4,2448.2 1307.0,2446.9 1308.5,2445.6 C1310.0,2444.3 1311.6,2443.0 1313.1,2441.7 C1314.6,2440.4 1316.1,2439.1 1317.7,2437.8 C1319.2,2436.4 1320.7,2435.1 1322.2,2433.8 C1323.7,2432.4 1325.2,2431.1 1326.7,2429.7 C1328.2,2428.4 1329.7,2427.0 1331.1,2425.7 C1332.6,2424.3 1334.1,2423.0 1335.6,2421.6 C1337.1,2420.2 1338.5,2418.9 1340.0,2417.5 C1341.5,2416.1 1342.9,2414.8 1344.4,2413.4 C1345.9,2412.0 1347.3,2410.6 1348.8,2409.2 C1350.3,2407.9 1351.7,2406.5 1353.2,2405.1 C1354.6,2403.7 1356.1,2402.3 1357.5,2400.9 C1359.0,2399.5 1360.4,2398.1 1361.9,2396.7 C1363.3,2395.3 1364.8,2393.9 1366.2,2392.6 C1367.7,2391.2 1369.2,2389.8 1370.6,2388.4 C1372.1,2387.0 1373.6,2385.7 1375.0,2384.3 C1376.5,2382.9 1378.0,2381.6 1379.5,2380.2 C1381.0,2378.9 1382.5,2377.6 1384.1,2376.3 C1385.6,2375.0 1387.1,2373.7 1388.7,2372.4 C1390.3,2371.2 1391.8,2369.9 1393.4,2368.7 C1395.0,2367.5 1396.7,2366.3 1398.3,2365.1 C1399.9,2363.9 1401.6,2362.8 1403.3,2361.7 C1405.0,2360.6 1406.7,2359.6 1408.4,2358.5 C1410.2,2357.5 1411.9,2356.5 1413.7,2355.6 C1415.5,2354.7 1417.3,2353.8 1419.1,2353.0 C1421.0,2352.2 1422.8,2351.4 1424.7,2350.7 C1426.6,2350.0 1428.5,2349.3 1430.4,2348.7 C1432.3,2348.1 1434.3,2347.6 1436.2,2347.1 C1438.2,2346.7 1440.2,2346.3 1442.1,2345.9 C1444.1,2345.6 1446.1,2345.3 1448.1,2345.1 C1450.1,2344.8 1452.1,2344.7 1454.1,2344.6 C1456.1,2344.5 1458.1,2344.4 1460.2,2344.4 C1462.2,2344.4 1464.2,2344.5 1466.2,2344.6 C1468.2,2344.8 1470.2,2345.0 1472.2,2345.2 C1474.2,2345.4 1476.2,2345.7 1478.1,2346.1 C1480.1,2346.5 1482.1,2346.9 1484.0,2347.4 C1486.0,2347.9 1487.9,2348.5 1489.8,2349.1 C1491.8,2349.7 1493.7,2350.4 1495.5,2351.1 C1497.4,2351.8 1499.3,2352.6 1501.1,2353.4 C1502.9,2354.3 1504.7,2355.1 1506.5,2356.1 C1508.3,2357.0 1510.1,2357.9 1511.8,2358.9 C1513.6,2359.9 1515.3,2361.0 1517.0,2362.1 C1518.7,2363.1 1520.3,2364.3 1522.0,2365.4 C1523.7,2366.5 1525.3,2367.7 1526.9,2368.9 C1528.5,2370.1 1530.1,2371.3 1531.7,2372.6 C1533.3,2373.8 1534.9,2375.1 1536.4,2376.4 C1538.0,2377.6 1539.5,2379.0 1541.0,2380.3 C1542.5,2381.6 1544.0,2382.9 1545.5,2384.3 C1547.0,2385.6 1548.5,2387.0 1550.0,2388.3 C1551.5,2389.7 1552.9,2391.1 1554.4,2392.5 C1555.8,2393.8 1557.3,2395.2 1558.7,2396.6 C1560.2,2398.0 1561.6,2399.4 1563.1,2400.8 C1564.5,2402.2 1566.0,2403.6 1567.4,2405.0 C1568.8,2406.4 1570.3,2407.8 1571.7,2409.3 C1573.2,2410.7 1574.6,2412.1 1576.0,2413.5 C1577.4,2414.9 1578.9,2416.3 1580.3,2417.7 C1581.7,2419.2 1583.1,2420.6 1584.6,2422.0 C1586.0,2423.4 1587.4,2424.9 1588.8,2426.3 C1590.2,2427.7 1591.6,2429.1 1593.0,2430.6 C1594.5,2432.0 1595.9,2433.5 1597.3,2434.9 C1598.7,2436.4 1600.0,2437.8 1601.4,2439.3 C1602.8,2440.7 1604.2,2442.2 1605.6,2443.6 C1607.0,2445.1 1608.3,2446.6 1609.7,2448.0 C1611.1,2449.5 1612.5,2451.0 1613.8,2452.5 C1615.2,2453.9 1616.5,2455.4 1617.9,2456.9 C1619.2,2458.4 1620.6,2459.9 1621.9,2461.4 C1623.2,2462.9 1624.6,2464.4 1625.9,2465.9 C1627.2,2467.5 1628.5,2469.0 1629.9,2470.5 C1631.2,2472.0 1632.5,2473.6 1633.8,2475.1 C1635.1,2476.6 1636.4,2478.2 1637.6,2479.7 C1638.9,2481.3 1640.2,2482.8 1641.5,2484.4 C1642.7,2485.9 1644.0,2487.5 1645.3,2489.1 C1646.5,2490.6 1647.8,2492.2 1649.1,2493.7 C1650.4,2495.3 1651.6,2496.8 1652.9,2498.4 C1654.2,2499.9 1655.5,2501.5 1656.9,2503.0 C1658.2,2504.5 1659.5,2506.0 1660.9,2507.5 C1662.3,2508.9 1663.7,2510.4 1665.1,2511.8 C1666.5,2513.3 1667.9,2514.7 1669.4,2516.0 C1670.8,2517.4 1672.3,2518.8 1673.8,2520.2 C1675.3,2521.5 1676.8,2522.8 1678.3,2524.2 C1679.8,2525.5 1681.3,2526.8 1682.9,2528.1 C1684.4,2529.4 1685.9,2530.7 1687.4,2532.1 C1688.9,2533.4 1690.5,2534.7 1692.0,2536.0 C1693.5,2537.3 1695.0,2538.7 1696.5,2540.0 C1698.0,2541.3 1699.5,2542.7 1701.0,2544.0 C1702.5,2545.4 1704.0,2546.8 1705.4,2548.1 C1706.9,2549.5 1708.4,2550.9 1709.9,2552.2 C1711.3,2553.6 1712.8,2555.0 1714.3,2556.4 C1715.7,2557.7 1717.2,2559.1 1718.6,2560.5 C1720.1,2561.9 1721.6,2563.3 1723.0,2564.7 C1724.5,2566.0 1725.9,2567.4 1727.4,2568.8 C1728.8,2570.2 1730.3,2571.6 1731.8,2573.0 C1733.2,2574.4 1734.7,2575.7 1736.2,2577.1 C1737.6,2578.5 1739.1,2579.9 1740.6,2581.2 C1742.0,2582.6 1743.5,2584.0 1745.0,2585.3 C1746.5,2586.7 1748.0,2588.0 1749.5,2589.4 C1751.0,2590.7 1752.5,2592.1 1754.0,2593.4 C1755.5,2594.7 1757.0,2596.1 1758.5,2597.4 C1760.0,2598.7 1761.6,2600.0 1763.1,2601.3 C1764.6,2602.6 1766.2,2603.9 1767.7,2605.1 C1769.3,2606.4 1770.9,2607.7 1772.5,2608.9 C1774.0,2610.1 1775.6,2611.4 1777.2,2612.6 C1778.8,2613.8 1780.4,2615.0 1782.1,2616.2 C1783.7,2617.4 1785.3,2618.5 1787.0,2619.7 C1788.6,2620.8 1790.3,2622.0 1792.0,2623.1 C1793.7,2624.2 1795.3,2625.3 1797.0,2626.4 C1798.7,2627.5 1800.4,2628.5 1802.2,2629.6 C1803.9,2630.6 1805.6,2631.7 1807.3,2632.7 C1809.1,2633.7 1810.8,2634.7 1812.6,2635.7 C1814.3,2636.6 1816.1,2637.6 1817.9,2638.5 C1819.7,2639.5 1821.4,2640.4 1823.2,2641.3 C1825.0,2642.2 1826.8,2643.1 1828.6,2644.0 C1830.5,2644.8 1832.3,2645.7 1834.1,2646.5 C1835.9,2647.4 1837.8,2648.2 1839.6,2649.0 C1841.5,2649.8 1843.3,2650.6 1845.2,2651.3 C1847.0,2652.1 1848.9,2652.8 1850.8,2653.6 C1852.7,2654.3 1854.5,2655.0 1856.4,2655.7 C1858.3,2656.4 1860.2,2657.0 1862.1,2657.7 C1864.0,2658.3 1865.9,2659.0 1867.9,2659.6 C1869.8,2660.2 1871.7,2660.8 1873.6,2661.4 C1875.5,2662.0 1877.5,2662.5 1879.4,2663.0 C1881.4,2663.6 1883.3,2664.1 1885.2,2664.6 C1887.2,2665.1 1889.2,2665.6 1891.1,2666.0 C1893.1,2666.5 1895.0,2666.9 1897.0,2667.4 C1899.0,2667.8 1900.9,2668.2 1902.9,2668.6 C1904.9,2668.9 1906.9,2669.3 1908.8,2669.6 C1910.8,2670.0 1912.8,2670.3 1914.8,2670.6 C1916.8,2670.9 1918.8,2671.2 1920.8,2671.4 C1922.8,2671.7 1924.8,2671.9 1926.8,2672.2 C1928.8,2672.4 1930.8,2672.6 1932.8,2672.8 C1934.8,2672.9 1936.8,2673.1 1938.8,2673.2 C1940.8,2673.4 1942.8,2673.5 1944.8,2673.6 C1946.8,2673.7 1948.8,2673.7 1950.8,2673.8 C1952.9,2673.8 1954.9,2673.9 1956.9,2673.9 C1958.9,2673.9 1960.9,2673.9 1962.9,2673.8 C1964.9,2673.8 1966.9,2673.7 1968.9,2673.7 C1970.9,2673.6 1974.0,2673.4 1975.0,2673.4"/>
<path d="M300.2,2678.1 C301.2,2678.0 304.2,2677.8 306.2,2677.6 C308.2,2677.5 310.2,2677.3 312.2,2677.2 C314.2,2677.0 316.2,2676.9 318.2,2676.7 C320.2,2676.6 322.2,2676.4 324.2,2676.3 C326.2,2676.1 328.2,2676.0 330.2,2675.8 C332.2,2675.6 334.2,2675.5 336.2,2675.3 C338.2,2675.1 340.2,2674.9 342.2,2674.7 C344.2,2674.6 346.2,2674.4 348.2,2674.2 C350.2,2674.0 352.2,2673.8 354.2,2673.6 C356.1,2673.4 358.1,2673.2 360.1,2673.0 C362.1,2672.8 364.1,2672.6 366.1,2672.3 C368.1,2672.1 370.1,2671.9 372.1,2671.6 C374.1,2671.4 376.1,2671.2 378.1,2670.9 C380.1,2670.7 382.0,2670.4 384.0,2670.2 C386.0,2669.9 388.0,2669.6 390.0,2669.4 C392.0,2669.1 394.0,2668.8 395.9,2668.5 C397.9,2668.2 399.9,2667.9 401.9,2667.6 C403.9,2667.3 405.9,2667.0 407.8,2666.7 C409.8,2666.4 411.8,2666.0 413.8,2665.7 C415.7,2665.3 417.7,2665.0 419.7,2664.6 C421.7,2664.3 423.6,2663.9 425.6,2663.5 C427.6,2663.1 429.5,2662.8 431.5,2662.4 C433.5,2662.0 435.4,2661.6 437.4,2661.1 C439.4,2660.7 441.3,2660.3 443.3,2659.9 C445.2,2659.4 447.2,2659.0 449.1,2658.5 C451.1,2658.0 453.0,2657.6 455.0,2657.1 C456.9,2656.6 458.9,2656.1 460.8,2655.6 C462.7,2655.1 464.7,2654.6 466.6,2654.0 C468.6,2653.5 470.5,2652.9 472.4,2652.4 C474.3,2651.8 476.2,2651.2 478.2,2650.7 C480.1,2650.1 482.0,2649.4 483.9,2648.8 C485.8,2648.2 487.7,2647.5 489.6,2646.9 C491.5,2646.2 493.4,2645.5 495.2,2644.8 C497.1,2644.1 499.0,2643.4 500.8,2642.6 C502.7,2641.9 504.6,2641.1 506.4,2640.3 C508.2,2639.5 510.1,2638.7 511.9,2637.9 C513.7,2637.0 515.5,2636.1 517.3,2635.2 C519.1,2634.4 520.9,2633.4 522.6,2632.5 C524.4,2631.5 526.2,2630.6 527.9,2629.5 C529.6,2628.5 531.3,2627.5 533.0,2626.3 C534.7,2625.2 536.3,2624.1 537.9,2622.9 C539.5,2621.7 541.1,2620.4 542.6,2619.1 C544.1,2617.8 545.6,2616.4 547.0,2615.0 C548.4,2613.6 549.7,2612.1 551.0,2610.5 C552.2,2609.0 553.4,2607.3 554.6,2605.7 C555.7,2604.0 556.8,2602.3 557.8,2600.6 C558.8,2598.9 559.8,2597.1 560.7,2595.4 C561.7,2593.6 562.6,2591.8 563.5,2590.0 C564.4,2588.2 565.3,2586.4 566.1,2584.6 C567.0,2582.8 567.8,2581.0 568.6,2579.1 C569.4,2577.3 570.2,2575.4 570.9,2573.6 C571.7,2571.7 572.5,2569.9 573.2,2568.0 C573.9,2566.1 574.6,2564.3 575.3,2562.4 C576.0,2560.5 576.7,2558.6 577.4,2556.7 C578.1,2554.8 578.7,2553.0 579.4,2551.1 C580.0,2549.2 580.7,2547.3 581.3,2545.4 C581.9,2543.5 582.6,2541.5 583.2,2539.6 C583.8,2537.7 584.4,2535.8 585.0,2533.9 C585.6,2532.0 586.2,2530.1 586.9,2528.2 C587.5,2526.3 588.1,2524.4 588.7,2522.4 C589.3,2520.5 589.9,2518.6 590.5,2516.7 C591.1,2514.8 591.6,2512.9 592.2,2511.0 C592.8,2509.0 593.4,2507.1 594.0,2505.2 C594.6,2503.3 595.2,2501.4 595.8,2499.5 C596.4,2497.5 597.0,2495.6 597.6,2493.7 C598.1,2491.8 598.7,2489.9 599.3,2488.0 C599.9,2486.0 600.5,2484.1 601.1,2482.2 C601.7,2480.3 602.3,2478.4 602.9,2476.5 C603.5,2474.6 604.1,2472.6 604.6,2470.7 C605.2,2468.8 605.8,2466.9 606.4,2465.0 C607.0,2463.1 607.6,2461.2 608.2,2459.2 C608.9,2457.3 609.5,2455.4 610.1,2453.5 C610.7,2451.6 611.3,2449.7 611.9,2447.8 C612.5,2445.9 613.1,2444.0 613.8,2442.1 C614.4,2440.2 615.0,2438.3 615.7,2436.4 C616.3,2434.4 616.9,2432.5 617.6,2430.6 C618.2,2428.7 618.8,2426.8 619.5,2425.0 C620.1,2423.1 620.8,2421.2 621.5,2419.3 C622.1,2417.4 622.8,2415.5 623.4,2413.6 C624.1,2411.7 624.8,2409.8 625.4,2407.9 C626.1,2406.0 626.7,2404.1 627.3,2402.2 C628.0,2400.3 628.6,2398.4 629.2,2396.5 C629.8,2394.6 630.4,2392.7 631.0,2390.8 C631.6,2388.8 632.2,2386.9 632.7,2385.0 C633.3,2383.1 633.8,2381.1 634.3,2379.2 C634.8,2377.2 635.3,2375.3 635.8,2373.3 C636.2,2371.4 636.7,2369.4 637.1,2367.5 C637.6,2365.5 638.0,2363.6 638.5,2361.6 C638.9,2359.7 639.3,2357.7 639.7,2355.7 C640.2,2353.8 640.6,2351.8 641.0,2349.9 C641.5,2347.9 641.9,2346.0 642.3,2344.0 C642.8,2342.0 643.2,2340.1 643.7,2338.1 C644.1,2336.2 644.5,2334.2 645.0,2332.3 C645.4,2330.3 645.9,2328.4 646.3,2326.4 C646.8,2324.4 647.2,2322.5 647.7,2320.5 C648.1,2318.6 648.6,2316.6 649.0,2314.7 C649.5,2312.7 649.9,2310.8 650.4,2308.8 C650.8,2306.9 651.3,2304.9 651.7,2303.0 C652.2,2301.0 652.6,2299.0 653.1,2297.1 C653.5,2295.1 654.0,2293.2 654.4,2291.2 C654.9,2289.3 655.3,2287.3 655.8,2285.4 C656.2,2283.4 656.6,2281.4 657.1,2279.5 C657.5,2277.5 657.9,2275.6 658.4,2273.6 C658.8,2271.7 659.2,2269.7 659.7,2267.7 C660.1,2265.8 660.5,2263.8 660.9,2261.9 C661.3,2259.9 661.8,2257.9 662.2,2256.0 C662.6,2254.0 663.0,2252.1 663.4,2250.1 C663.8,2248.1 664.2,2246.2 664.6,2244.2 C665.0,2242.2 665.4,2240.3 665.8,2238.3 C666.2,2236.3 666.6,2234.4 667.0,2232.4 C667.4,2230.4 667.8,2228.5 668.2,2226.5 C668.6,2224.5 669.0,2222.6 669.3,2220.6 C669.7,2218.6 670.1,2216.7 670.5,2214.7 C670.8,2212.7 671.2,2210.8 671.6,2208.8 C671.9,2206.8 672.3,2204.8 672.6,2202.9 C673.0,2200.9 673.3,2198.9 673.7,2196.9 C674.0,2195.0 674.4,2193.0 674.7,2191.0 C675.1,2189.0 675.4,2187.1 675.7,2185.1 C676.1,2183.1 676.4,2181.1 676.7,2179.1 C677.0,2177.2 677.4,2175.2 677.7,2173.2 C678.0,2171.2 678.3,2169.3 678.6,2167.3 C678.9,2165.3 679.2,2163.3 679.5,2161.3 C679.8,2159.3 680.1,2157.4 680.4,2155.4 C680.7,2153.4 681.0,2151.4 681.3,2149.4 C681.6,2147.4 681.9,2145.5 682.2,2143.5 C682.5,2141.5 682.8,2139.5 683.1,2137.5 C683.4,2135.5 683.6,2133.6 683.9,2131.6 C684.2,2129.6 684.5,2127.6 684.8,2125.6 C685.1,2123.6 685.4,2121.6 685.7,2119.7 C685.9,2117.7 686.2,2115.7 686.5,2113.7 C686.8,2111.7 687.1,2109.7 687.4,2107.8 C687.7,2105.8 688.0,2103.8 688.3,2101.8 C688.6,2099.8 688.9,2097.8 689.2,2095.9 C689.5,2093.9 689.8,2091.9 690.1,2089.9 C690.4,2087.9 690.7,2085.9 691.0,2084.0 C691.3,2082.0 691.6,2080.0 691.9,2078.0 C692.2,2076.0 692.5,2074.1 692.8,2072.1 C693.2,2070.1 693.5,2068.1 693.8,2066.1 C694.1,2064.2 694.4,2062.2 694.8,2060.2 C695.1,2058.2 695.4,2056.2 695.7,2054.3 C696.1,2052.3 696.4,2050.3 696.7,2048.3 C697.0,2046.4 697.4,2044.4 697.7,2042.4 C698.0,2040.4 698.3,2038.4 698.7,2036.5 C699.0,2034.5 699.3,2032.5 699.7,2030.5 C700.0,2028.6 700.3,2026.6 700.6,2024.6 C701.0,2022.6 701.3,2020.6 701.6,2018.7 C702.0,2016.7 702.3,2014.7 702.6,2012.7 C702.9,2010.7 703.3,2008.8 703.6,2006.8 C703.9,2004.8 704.2,2002.8 704.6,2000.9 C704.9,1998.9 705.2,1996.9 705.5,1994.9 C705.8,1992.9 706.1,1991.0 706.5,1989.0 C706.8,1987.0 707.1,1985.0 707.4,1983.0 C707.7,1981.1 708.0,1979.1 708.3,1977.1 C708.6,1975.1 708.9,1973.1 709.2,1971.1 C709.5,1969.2 709.8,1967.2 710.1,1965.2 C710.4,1963.2 710.7,1961.2 711.0,1959.2 C711.3,1957.3 711.6,1955.3 711.9,1953.3 C712.2,1951.3 712.4,1949.3 712.7,1947.3 C713.0,1945.4 713.3,1943.4 713.6,1941.4 C713.8,1939.4 714.1,1937.4 714.4,1935.4 C714.7,1933.4 715.0,1931.5 715.4,1929.5 C715.7,1927.5 716.1,1925.5 716.4,1923.6 C716.8,1921.6 717.2,1919.6 717.6,1917.7 C718.0,1915.7 718.5,1913.8 719.0,1911.8 C719.4,1909.9 720.0,1907.9 720.5,1906.0 C721.1,1904.1 721.6,1902.1 722.3,1900.2 C722.9,1898.3 723.5,1896.4 724.3,1894.6 C725.0,1892.7 725.4,1890.5 726.5,1889.0 C727.7,1887.5 729.4,1885.7 730.9,1885.7 C732.5,1885.6 734.5,1887.5 736.0,1888.8 C737.4,1890.1 738.7,1891.8 739.7,1893.6 C740.6,1895.3 741.4,1897.2 741.9,1899.1 C742.4,1901.0 742.7,1903.1 742.9,1905.0 C743.2,1907.0 743.2,1909.0 743.3,1911.0 C743.4,1913.0 743.4,1915.1 743.5,1917.1 C743.6,1919.1 743.8,1921.1 743.9,1923.1 C744.1,1925.1 744.3,1927.0 744.5,1929.0 C744.8,1931.0 745.0,1933.0 745.3,1935.0 C745.6,1937.0 745.9,1939.0 746.2,1941.0 C746.5,1942.9 746.8,1944.9 747.1,1946.9 C747.4,1948.9 747.8,1950.9 748.1,1952.8 C748.4,1954.8 748.7,1956.8 749.0,1958.8 C749.3,1960.8 749.6,1962.7 749.9,1964.7 C750.2,1966.7 750.4,1968.7 750.7,1970.7 C751.0,1972.7 751.2,1974.7 751.5,1976.7 C751.7,1978.6 752.0,1980.6 752.2,1982.6 C752.5,1984.6 752.7,1986.6 753.0,1988.6 C753.2,1990.6 753.4,1992.6 753.6,1994.6 C753.9,1996.6 754.1,1998.6 754.3,2000.6 C754.5,2002.5 754.7,2004.5 754.9,2006.5 C755.1,2008.5 755.3,2010.5 755.5,2012.5 C755.7,2014.5 755.9,2016.5 756.1,2018.5 C756.3,2020.5 756.4,2022.5 756.6,2024.5 C756.8,2026.5 757.0,2028.5 757.2,2030.5 C757.3,2032.5 757.5,2034.5 757.7,2036.5 C757.8,2038.5 758.0,2040.5 758.2,2042.5 C758.3,2044.5 758.5,2046.5 758.6,2048.5 C758.8,2050.5 759.0,2052.5 759.1,2054.5 C759.3,2056.5 759.4,2058.5 759.6,2060.5 C759.7,2062.5 759.9,2064.5 760.0,2066.5 C760.2,2068.5 760.3,2070.5 760.5,2072.5 C760.7,2074.5 760.8,2076.5 761.0,2078.5 C761.1,2080.5 761.3,2082.5 761.4,2084.5 C761.6,2086.5 761.7,2088.5 761.9,2090.5 C762.0,2092.5 762.2,2094.5 762.3,2096.5 C762.5,2098.5 762.6,2100.5 762.8,2102.5 C762.9,2104.5 763.1,2106.5 763.2,2108.5 C763.4,2110.5 763.5,2112.5 763.7,2114.5 C763.8,2116.5 763.9,2118.5 764.1,2120.5 C764.2,2122.5 764.4,2124.5 764.5,2126.4 C764.7,2128.4 764.8,2130.4 765.0,2132.4 C765.1,2134.4 765.3,2136.4 765.4,2138.4 C765.6,2140.4 765.7,2142.4 765.9,2144.4 C766.0,2146.4 766.2,2148.4 766.3,2150.4 C766.5,2152.4 766.6,2154.4 766.8,2156.4 C766.9,2158.4 767.1,2160.4 767.2,2162.4 C767.4,2164.4 767.5,2166.4 767.7,2168.4 C767.8,2170.4 768.0,2172.4 768.1,2174.4 C768.3,2176.4 768.4,2178.4 768.6,2180.4 C768.7,2182.4 768.9,2184.4 769.0,2186.4 C769.2,2188.4 769.3,2190.4 769.5,2192.4 C769.6,2194.4 769.8,2196.4 769.9,2198.4 C770.1,2200.4 770.2,2202.4 770.4,2204.4 C770.5,2206.4 770.7,2208.4 770.9,2210.4 C771.0,2212.4 771.2,2214.4 771.3,2216.4 C771.5,2218.4 771.6,2220.4 771.8,2222.4 C771.9,2224.4 772.1,2226.4 772.2,2228.4 C772.4,2230.4 772.6,2232.4 772.7,2234.4 C772.9,2236.4 773.0,2238.4 773.2,2240.4 C773.3,2242.4 773.5,2244.4 773.7,2246.4 C773.8,2248.4 774.0,2250.4 774.1,2252.4 C774.3,2254.4 774.4,2256.4 774.6,2258.4 C774.8,2260.4 774.9,2262.4 775.1,2264.4 C775.3,2266.4 775.4,2268.4 775.6,2270.4 C775.7,2272.4 775.9,2274.4 776.1,2276.4 C776.2,2278.4 776.4,2280.4 776.6,2282.4 C776.7,2284.4 776.9,2286.4 777.1,2288.4 C777.2,2290.4 777.4,2292.4 777.6,2294.4 C777.7,2296.4 777.9,2298.4 778.1,2300.4 C778.2,2302.4 778.4,2304.4 778.6,2306.4 C778.8,2308.4 778.9,2310.4 779.1,2312.4 C779.3,2314.4 779.4,2316.3 779.6,2318.3 C779.8,2320.3 780.0,2322.3 780.2,2324.3 C780.3,2326.3 780.5,2328.3 780.7,2330.3 C780.9,2332.3 781.0,2334.3 781.2,2336.3 C781.4,2338.3 781.6,2340.3 781.8,2342.3 C781.9,2344.3 782.1,2346.3 782.3,2348.3 C782.5,2350.3 782.7,2352.3 782.9,2354.3 C783.0,2356.3 783.2,2358.3 783.4,2360.3 C783.6,2362.3 783.8,2364.3 784.0,2366.3 C784.2,2368.3 784.4,2370.3 784.6,2372.3 C784.7,2374.3 784.9,2376.2 785.1,2378.2 C785.3,2380.2 785.5,2382.2 785.7,2384.2 C785.9,2386.2 786.1,2388.2 786.3,2390.2 C786.5,2392.2 786.7,2394.2 786.9,2396.2 C787.1,2398.2 787.3,2400.2 787.5,2402.2 C787.7,2404.2 787.9,2406.2 788.1,2408.2 C788.3,2410.2 788.5,2412.2 788.7,2414.2 C788.9,2416.2 789.1,2418.2 789.3,2420.2 C789.5,2422.1 789.7,2424.1 789.9,2426.1 C790.0,2428.1 790.2,2430.1 790.4,2432.1 C790.6,2434.1 790.8,2436.1 791.1,2438.1 C791.3,2440.1 791.5,2442.1 791.7,2444.1 C791.9,2446.1 792.1,2448.1 792.3,2450.1 C792.5,2452.1 792.7,2454.1 792.9,2456.1 C793.1,2458.1 793.3,2460.1 793.5,2462.0 C793.7,2464.0 793.9,2466.0 794.1,2468.0 C794.3,2470.0 794.5,2472.0 794.7,2474.0 C794.9,2476.0 795.1,2478.0 795.2,2480.0 C795.4,2482.0 795.6,2484.0 795.8,2486.0 C796.1,2488.0 796.3,2490.0 796.5,2492.0 C796.7,2494.0 796.9,2496.0 797.1,2498.0 C797.3,2499.9 797.6,2501.9 797.8,2503.9 C798.1,2505.9 798.3,2507.9 798.6,2509.9 C798.9,2511.9 799.2,2513.9 799.5,2515.8 C799.8,2517.8 800.1,2519.8 800.4,2521.8 C800.8,2523.8 801.1,2525.7 801.5,2527.7 C801.9,2529.7 802.3,2531.6 802.7,2533.6 C803.2,2535.5 803.6,2537.5 804.1,2539.4 C804.6,2541.4 805.1,2543.3 805.7,2545.2 C806.2,2547.2 806.8,2549.1 807.4,2551.0 C808.0,2552.9 808.7,2554.8 809.4,2556.7 C810.0,2558.6 810.7,2560.5 811.5,2562.3 C812.2,2564.2 813.0,2566.0 813.8,2567.9 C814.7,2569.7 815.5,2571.5 816.4,2573.3 C817.3,2575.1 818.2,2576.9 819.2,2578.6 C820.2,2580.4 821.1,2582.2 822.3,2583.8 C823.4,2585.5 824.5,2587.2 826.0,2588.5 C827.4,2589.9 829.1,2591.3 831.0,2591.8 C832.8,2592.3 835.0,2592.1 836.9,2591.7 C838.8,2591.3 840.6,2590.2 842.4,2589.3 C844.1,2588.3 845.7,2587.1 847.3,2585.8 C848.9,2584.6 850.3,2583.2 851.8,2581.8 C853.2,2580.4 854.5,2578.9 855.8,2577.4 C857.2,2575.9 858.5,2574.3 859.8,2572.8 C861.2,2571.4 862.5,2569.9 863.9,2568.5 C865.4,2567.1 866.8,2565.7 868.3,2564.4 C869.9,2563.1 871.4,2561.8 873.0,2560.6 C874.6,2559.4 876.2,2558.2 877.9,2557.1 C879.6,2556.0 881.3,2554.9 883.0,2553.9 C884.7,2552.9 886.5,2551.9 888.3,2551.0 C890.0,2550.0 891.8,2549.2 893.7,2548.3 C895.5,2547.5 897.3,2546.7 899.2,2545.9 C901.0,2545.1 902.9,2544.4 904.8,2543.7 C906.6,2543.0 908.5,2542.4 910.4,2541.7 C912.3,2541.1 914.2,2540.5 916.2,2539.9 C918.1,2539.3 920.0,2538.7 921.9,2538.2 C923.9,2537.7 925.8,2537.1 927.7,2536.6 C929.7,2536.1 931.6,2535.6 933.6,2535.2 C935.5,2534.7 937.5,2534.2 939.4,2533.8 C941.4,2533.3 943.3,2532.9 945.3,2532.4 C947.3,2532.0 949.2,2531.5 951.2,2531.1 C953.1,2530.7 955.1,2530.2 957.0,2529.8 C959.0,2529.4 961.0,2529.0 962.9,2528.5 C964.9,2528.1 966.8,2527.7 968.8,2527.3 C970.8,2526.9 972.7,2526.5 974.7,2526.1 C976.7,2525.7 978.6,2525.2 980.6,2524.9 C982.5,2524.5 984.5,2524.1 986.5,2523.7 C988.4,2523.3 990.4,2522.9 992.4,2522.5 C994.4,2522.1 996.3,2521.7 998.3,2521.4 C1000.3,2521.0 1002.2,2520.6 1004.2,2520.2 C1006.2,2519.9 1008.1,2519.5 1010.1,2519.1 C1012.1,2518.8 1014.1,2518.4 1016.0,2518.0 C1018.0,2517.7 1020.0,2517.3 1021.9,2517.0 C1023.9,2516.6 1025.9,2516.3 1027.9,2515.9 C1029.8,2515.6 1031.8,2515.3 1033.8,2514.9 C1035.8,2514.6 1037.8,2514.2 1039.7,2513.9 C1041.7,2513.6 1043.7,2513.3 1045.7,2512.9 C1047.6,2512.6 1049.6,2512.3 1051.6,2512.0 C1053.6,2511.6 1055.6,2511.3 1057.5,2511.0 C1059.5,2510.7 1061.5,2510.4 1063.5,2510.1 C1065.5,2509.8 1067.4,2509.5 1069.4,2509.2 C1071.4,2508.9 1073.4,2508.6 1075.4,2508.3 C1077.4,2508.0 1079.3,2507.7 1081.3,2507.4 C1083.3,2507.1 1085.3,2506.8 1087.3,2506.5 C1089.3,2506.2 1091.3,2506.0 1093.2,2505.7 C1095.2,2505.4 1097.2,2505.1 1099.2,2504.8 C1101.2,2504.6 1103.2,2504.3 1105.2,2504.0 C1107.1,2503.8 1109.1,2503.5 1111.1,2503.2 C1113.1,2503.0 1115.1,2502.7 1117.1,2502.4 C1119.1,2502.2 1121.1,2501.9 1123.0,2501.7 C1125.0,2501.4 1127.0,2501.2 1129.0,2500.9 C1131.0,2500.7 1133.0,2500.4 1135.0,2500.2 C1137.0,2499.9 1139.0,2499.7 1141.0,2499.4 C1142.9,2499.2 1144.9,2499.0 1146.9,2498.7 C1148.9,2498.5 1150.9,2498.3 1152.9,2498.0 C1154.9,2497.8 1156.9,2497.6 1158.9,2497.3 C1160.9,2497.1 1162.9,2496.9 1164.9,2496.7 C1166.8,2496.4 1168.8,2496.2 1170.8,2496.0 C1172.8,2495.8 1174.8,2495.5 1176.8,2495.3 C1178.8,2495.1 1180.8,2494.9 1182.8,2494.6 C1184.8,2494.4 1186.8,2494.2 1188.8,2494.0 C1190.8,2493.7 1192.7,2493.5 1194.7,2493.3 C1196.7,2493.0 1198.7,2492.8 1200.7,2492.5 C1202.7,2492.3 1204.7,2492.1 1206.7,2491.8 C1208.7,2491.6 1210.7,2491.3 1212.6,2491.1 C1214.6,2490.8 1216.6,2490.5 1218.6,2490.3 C1220.6,2490.0 1222.6,2489.7 1224.6,2489.5 C1226.6,2489.2 1228.5,2488.9 1230.5,2488.6 C1232.5,2488.3 1234.5,2488.0 1236.5,2487.7 C1238.5,2487.4 1240.4,2487.1 1242.4,2486.8 C1244.4,2486.5 1246.4,2486.1 1248.4,2485.8 C1250.3,2485.5 1252.3,2485.1 1254.3,2484.8 C1256.3,2484.4 1258.2,2484.1 1260.2,2483.7 C1262.2,2483.3 1264.1,2482.9 1266.1,2482.5 C1268.1,2482.1 1270.0,2481.7 1272.0,2481.3 C1273.9,2480.9 1275.9,2480.4 1277.9,2480.0 C1279.8,2479.6 1281.8,2479.1 1283.7,2478.6 C1285.7,2478.2 1287.6,2477.7 1289.6,2477.2 C1291.5,2476.7 1293.4,2476.2 1295.4,2475.7 C1297.3,2475.1 1299.2,2474.6 1301.2,2474.0 C1303.1,2473.5 1305.0,2472.9 1306.9,2472.3 C1308.9,2471.7 1310.8,2471.1 1312.7,2470.5 C1314.6,2469.9 1316.5,2469.3 1318.4,2468.6 C1320.3,2468.0 1322.2,2467.3 1324.1,2466.6 C1325.9,2465.9 1327.8,2465.2 1329.7,2464.5 C1331.6,2463.8 1333.4,2463.1 1335.3,2462.3 C1337.1,2461.6 1339.0,2460.8 1340.8,2460.0 C1342.7,2459.2 1344.5,2458.4 1346.4,2457.6 C1348.2,2456.8 1350.0,2456.0 1351.9,2455.2 C1353.7,2454.4 1355.5,2453.6 1357.4,2452.8 C1359.2,2451.9 1361.0,2451.1 1362.9,2450.3 C1364.7,2449.5 1366.5,2448.7 1368.4,2447.9 C1370.2,2447.1 1372.1,2446.4 1373.9,2445.6 C1375.8,2444.8 1377.6,2444.1 1379.5,2443.4 C1381.4,2442.6 1383.3,2441.9 1385.1,2441.2 C1387.0,2440.6 1388.9,2439.9 1390.8,2439.3 C1392.7,2438.6 1394.6,2438.0 1396.6,2437.5 C1398.5,2436.9 1400.4,2436.4 1402.4,2436.0 C1404.3,2435.6 1406.3,2435.2 1408.3,2435.1 C1410.3,2435.0 1412.4,2435.0 1414.3,2435.3 C1416.3,2435.6 1418.2,2436.2 1420.1,2436.9 C1422.0,2437.6 1423.8,2438.6 1425.5,2439.5 C1427.3,2440.5 1429.0,2441.6 1430.7,2442.7 C1432.3,2443.8 1434.0,2444.9 1435.6,2446.1 C1437.3,2447.2 1438.9,2448.4 1440.5,2449.5 C1442.2,2450.6 1443.9,2451.8 1445.6,2452.8 C1447.3,2453.8 1449.1,2454.8 1450.8,2455.7 C1452.6,2456.6 1454.5,2457.5 1456.3,2458.3 C1458.1,2459.1 1460.0,2459.8 1461.9,2460.5 C1463.7,2461.2 1465.6,2461.9 1467.5,2462.6 C1469.4,2463.2 1471.3,2463.8 1473.2,2464.5 C1475.1,2465.1 1477.1,2465.6 1479.0,2466.2 C1480.9,2466.8 1482.8,2467.3 1484.8,2467.9 C1486.7,2468.4 1488.6,2469.0 1490.6,2469.5 C1492.5,2470.0 1494.4,2470.5 1496.4,2471.1 C1498.3,2471.6 1500.2,2472.1 1502.2,2472.6 C1504.1,2473.1 1506.0,2473.7 1508.0,2474.2 C1509.9,2474.7 1511.8,2475.3 1513.8,2475.8 C1515.7,2476.4 1517.6,2477.0 1519.5,2477.6 C1521.4,2478.1 1523.4,2478.8 1525.3,2479.4 C1527.2,2480.0 1529.1,2480.7 1530.9,2481.3 C1532.8,2482.0 1534.7,2482.7 1536.6,2483.4 C1538.5,2484.2 1540.3,2484.9 1542.2,2485.7 C1544.0,2486.4 1545.9,2487.2 1547.7,2488.0 C1549.5,2488.8 1551.4,2489.7 1553.2,2490.5 C1555.0,2491.4 1556.8,2492.3 1558.6,2493.1 C1560.4,2494.0 1562.2,2495.0 1563.9,2495.9 C1565.7,2496.8 1567.5,2497.8 1569.2,2498.8 C1571.0,2499.8 1572.7,2500.8 1574.4,2501.8 C1576.1,2502.8 1577.9,2503.9 1579.5,2505.0 C1581.2,2506.0 1582.9,2507.1 1584.6,2508.2 C1586.3,2509.3 1587.9,2510.5 1589.6,2511.6 C1591.2,2512.8 1592.8,2514.0 1594.4,2515.2 C1596.0,2516.3 1597.6,2517.6 1599.2,2518.8 C1600.8,2520.0 1602.4,2521.2 1604.0,2522.5 C1605.5,2523.8 1607.1,2525.0 1608.6,2526.3 C1610.2,2527.6 1611.7,2528.9 1613.2,2530.2 C1614.7,2531.5 1616.3,2532.8 1617.8,2534.1 C1619.3,2535.4 1620.8,2536.8 1622.3,2538.1 C1623.8,2539.4 1625.2,2540.8 1626.7,2542.1 C1628.2,2543.5 1629.7,2544.9 1631.2,2546.2 C1632.6,2547.6 1634.1,2548.9 1635.6,2550.3 C1637.0,2551.7 1638.5,2553.1 1639.9,2554.4 C1641.4,2555.8 1642.9,2557.2 1644.3,2558.6 C1645.8,2559.9 1647.2,2561.3 1648.7,2562.7 C1650.1,2564.1 1651.6,2565.5 1653.0,2566.9 C1654.5,2568.3 1655.9,2569.6 1657.4,2571.0 C1658.8,2572.4 1660.2,2573.8 1661.7,2575.2 C1663.1,2576.6 1664.6,2578.0 1666.0,2579.4 C1667.4,2580.8 1668.9,2582.2 1670.3,2583.6 C1671.8,2585.0 1673.2,2586.4 1674.7,2587.8 C1676.1,2589.2 1677.5,2590.6 1679.0,2591.9 C1680.4,2593.3 1681.9,2594.7 1683.3,2596.1 C1684.7,2597.5 1686.2,2598.9 1687.6,2600.3 C1689.1,2601.7 1690.5,2603.1 1692.0,2604.5 C1693.4,2605.9 1694.9,2607.2 1696.3,2608.6 C1697.8,2610.0 1699.2,2611.4 1700.7,2612.7 C1702.2,2614.1 1703.6,2615.5 1705.1,2616.8 C1706.6,2618.2 1708.1,2619.5 1709.6,2620.9 C1711.0,2622.2 1712.5,2623.6 1714.0,2624.9 C1715.5,2626.2 1717.1,2627.5 1718.6,2628.8 C1720.1,2630.1 1721.6,2631.4 1723.2,2632.7 C1724.7,2634.0 1726.3,2635.3 1727.8,2636.5 C1729.4,2637.8 1731.0,2639.0 1732.6,2640.2 C1734.1,2641.5 1735.7,2642.7 1737.4,2643.9 C1739.0,2645.1 1740.6,2646.2 1742.2,2647.4 C1743.9,2648.5 1745.5,2649.7 1747.2,2650.8 C1748.9,2651.9 1750.6,2653.0 1752.3,2654.1 C1754.0,2655.1 1755.7,2656.2 1757.4,2657.2 C1759.1,2658.2 1760.9,2659.2 1762.6,2660.1 C1764.4,2661.1 1766.2,2662.0 1768.0,2662.9 C1769.7,2663.8 1771.6,2664.7 1773.4,2665.5 C1775.2,2666.4 1777.0,2667.2 1778.9,2667.9 C1780.7,2668.7 1782.6,2669.4 1784.5,2670.1 C1786.4,2670.8 1788.3,2671.5 1790.2,2672.1 C1792.1,2672.7 1794.0,2673.3 1795.9,2673.9 C1797.9,2674.4 1799.8,2674.9 1801.8,2675.4 C1803.7,2675.8 1805.7,2676.2 1807.6,2676.6 C1809.6,2677.0 1812.6,2677.4 1813.6,2677.6" stroke-dasharray="26 11.5 5 11.5"/>
</g>
<g stroke="#000" stroke-width="3.4" fill="none"><line x1="314.1" y1="2679.6" x2="314.1" y2="2700.6"/><line x1="577.7" y1="2679.6" x2="577.7" y2="2700.6"/><line x1="841.3" y1="2679.6" x2="841.3" y2="2700.6"/><line x1="1104.8" y1="2679.6" x2="1104.8" y2="2700.6"/><line x1="1368.4" y1="2679.6" x2="1368.4" y2="2700.6"/><line x1="1632.0" y1="2679.6" x2="1632.0" y2="2700.6"/><line x1="1895.6" y1="2679.6" x2="1895.6" y2="2700.6"/><line x1="445.9" y1="2679.6" x2="445.9" y2="2690.1"/><line x1="709.5" y1="2679.6" x2="709.5" y2="2690.1"/><line x1="973.1" y1="2679.6" x2="973.1" y2="2690.1"/><line x1="1236.6" y1="2679.6" x2="1236.6" y2="2690.1"/><line x1="1500.2" y1="2679.6" x2="1500.2" y2="2690.1"/><line x1="1763.8" y1="2679.6" x2="1763.8" y2="2690.1"/><line x1="239.2" y1="2679.6" x2="261.2" y2="2679.6"/><line x1="239.2" y1="2268.2" x2="261.2" y2="2268.2"/><line x1="239.2" y1="1856.7" x2="261.2" y2="1856.7"/><line x1="239.2" y1="1445.3" x2="261.2" y2="1445.3"/><line x1="250.2" y1="2473.9" x2="261.2" y2="2473.9"/><line x1="250.2" y1="2062.4" x2="261.2" y2="2062.4"/><line x1="250.2" y1="1651.0" x2="261.2" y2="1651.0"/></g>
<rect x="261.2" y="1445.3" width="1713.6" height="1234.3" fill="none" stroke="#000" stroke-width="4.3"/>
<text transform="translate(314.1,2761.1) scale(1,1.040)" font-size="56" text-anchor="middle">100</text><text transform="translate(577.7,2761.1) scale(1,1.040)" font-size="56" text-anchor="middle">200</text><text transform="translate(841.3,2761.1) scale(1,1.040)" font-size="56" text-anchor="middle">300</text><text transform="translate(1104.8,2761.1) scale(1,1.040)" font-size="56" text-anchor="middle">400</text><text transform="translate(1368.4,2761.1) scale(1,1.040)" font-size="56" text-anchor="middle">500</text><text transform="translate(1632.0,2761.1) scale(1,1.040)" font-size="56" text-anchor="middle">600</text><text transform="translate(1895.6,2761.1) scale(1,1.040)" font-size="56" text-anchor="middle">700</text><text transform="translate(225.5,2696.6) scale(1,1.040)" font-size="56" text-anchor="end">0</text><text transform="translate(225.5,2285.2) scale(1,1.040)" font-size="56" text-anchor="end">100</text><text transform="translate(225.5,1873.7) scale(1,1.040)" font-size="56" text-anchor="end">200</text><text transform="translate(225.5,1462.3) scale(1,1.040)" font-size="56" text-anchor="end">300</text>
<text transform="translate(313.0,1658.0) scale(1,1.040)" font-size="205">B</text>
<line x1="1426.5" y1="1688.0" x2="1560" y2="1688.0" stroke="#0000ff" stroke-width="3.8"/>
<line x1="1426.5" y1="1758.5" x2="1560" y2="1758.5" stroke="#0000ff" stroke-width="3.8" stroke-dasharray="26 11.5 5 11.5"/>
<text transform="translate(1570.0,1708.0) scale(1,1.040)" font-size="56" letter-spacing="1.3">CuMn</text>
<text transform="translate(1570.0,1778.5) scale(1,1.040)" font-size="56" letter-spacing="1.3">Cu+Mn</text>
<text transform="translate(84.3,2066.1) rotate(-90) scale(1,1.040)" font-size="56" text-anchor="middle">H<tspan font-size="40" dy="14">2</tspan><tspan dy="-14" letter-spacing="0.6"> consumption /</tspan> nmol<tspan dx="-2">·</tspan><tspan dx="-2">s</tspan><tspan font-size="40" dy="-22" dx="-2">−</tspan><tspan font-size="40">1</tspan><tspan dy="22" dx="-2">·</tspan><tspan dx="-2">g</tspan><tspan font-size="40" dy="-22" dx="-2">−</tspan><tspan font-size="40">1</tspan></text>
<line x1="1824.0" y1="2083.2" x2="1824.0" y2="2431.5" stroke="#000" stroke-width="5"/>
<path d="M1824.0,2044.7 L1814.3,2085.2 L1833.7,2085.2 Z M1824.0,2470.0 L1814.3,2429.5 L1833.7,2429.5 Z" fill="#000"/>
<text transform="translate(1904.7,2259.8) rotate(-90) scale(1,1.040)" font-size="56" text-anchor="middle">100 nmol<tspan dx="-2">·</tspan><tspan dx="-2">s</tspan><tspan font-size="40" dy="-22" dx="-2">−</tspan><tspan font-size="40">1</tspan><tspan dy="22" dx="-2">·</tspan><tspan dx="-2">g</tspan><tspan font-size="40" dy="-22" dx="-2">−</tspan><tspan font-size="40">1</tspan></text>
<text transform="translate(553.0,2474.0) rotate(-90) scale(1,1.040)" font-size="52" text-anchor="middle">190</text>
<text transform="translate(679.6,2442.7) rotate(-90) scale(1,1.040)" font-size="52" text-anchor="middle">230</text>
<text transform="translate(753.8,1826.6) rotate(-90) scale(1,1.040)" font-size="52" text-anchor="middle">260</text>
<text transform="translate(910.3,2321.5) rotate(-90) scale(1,1.040)" font-size="52" text-anchor="middle">320</text>
<text transform="translate(1485.2,2282.8) rotate(-90) scale(1,1.040)" font-size="52" text-anchor="middle">530</text>
<text transform="translate(1429.5,2507.7) rotate(-90) scale(1,1.040)" font-size="52" text-anchor="middle">520</text>
<clipPath id="clipC"><rect x="263.3" y="2834.0" width="1714.2" height="1238.2"/></clipPath>
<g clip-path="url(#clipC)" fill="none" stroke="#008000" stroke-width="3.4" stroke-linejoin="round">
<path d="M329.8,4068.7 C330.8,4068.5 333.8,4068.0 335.8,4067.6 C337.7,4067.3 339.7,4066.9 341.7,4066.6 C343.7,4066.3 345.7,4066.0 347.7,4065.6 C349.7,4065.3 351.6,4065.0 353.6,4064.7 C355.6,4064.4 357.6,4064.2 359.6,4063.9 C361.6,4063.6 363.6,4063.4 365.6,4063.1 C367.6,4062.8 369.6,4062.6 371.6,4062.3 C373.6,4062.1 375.6,4061.8 377.6,4061.6 C379.6,4061.4 381.6,4061.1 383.6,4060.9 C385.6,4060.7 387.6,4060.5 389.6,4060.3 C391.6,4060.0 393.6,4059.8 395.6,4059.6 C397.6,4059.4 399.6,4059.2 401.6,4059.0 C403.6,4058.8 405.6,4058.6 407.6,4058.4 C409.6,4058.2 411.6,4058.0 413.6,4057.8 C415.6,4057.6 417.6,4057.4 419.6,4057.2 C421.6,4057.0 423.6,4056.8 425.6,4056.6 C427.6,4056.4 429.6,4056.2 431.6,4056.0 C433.6,4055.8 435.6,4055.6 437.6,4055.4 C439.6,4055.2 441.6,4055.0 443.6,4054.8 C445.6,4054.5 447.6,4054.3 449.6,4054.1 C451.6,4053.9 453.6,4053.6 455.6,4053.4 C457.6,4053.2 459.6,4052.9 461.6,4052.7 C463.6,4052.5 465.6,4052.2 467.6,4051.9 C469.6,4051.7 471.6,4051.4 473.6,4051.2 C475.6,4050.9 477.5,4050.6 479.5,4050.3 C481.5,4050.0 483.5,4049.7 485.5,4049.4 C487.5,4049.1 489.5,4048.8 491.5,4048.5 C493.5,4048.2 495.4,4047.9 497.4,4047.6 C499.4,4047.2 501.4,4046.9 503.4,4046.6 C505.4,4046.3 507.4,4045.9 509.3,4045.6 C511.3,4045.3 513.3,4044.9 515.3,4044.6 C517.3,4044.2 519.3,4043.9 521.2,4043.5 C523.2,4043.2 525.2,4042.9 527.2,4042.5 C529.2,4042.2 531.1,4041.8 533.1,4041.5 C535.1,4041.1 537.1,4040.8 539.1,4040.5 C541.1,4040.1 543.0,4039.8 545.0,4039.4 C547.0,4039.1 549.0,4038.8 551.0,4038.4 C553.0,4038.1 554.9,4037.8 556.9,4037.5 C558.9,4037.1 560.9,4036.8 562.9,4036.5 C564.9,4036.2 566.9,4035.9 568.9,4035.6 C570.8,4035.3 572.8,4035.0 574.8,4034.7 C576.8,4034.4 578.8,4034.0 580.8,4033.7 C582.8,4033.4 584.8,4033.1 586.7,4032.8 C588.7,4032.4 590.7,4032.1 592.7,4031.8 C594.7,4031.4 596.7,4031.1 598.6,4030.7 C600.6,4030.3 602.6,4030.0 604.6,4029.6 C606.5,4029.2 608.5,4028.8 610.5,4028.4 C612.4,4027.9 614.4,4027.5 616.4,4027.0 C618.3,4026.6 620.3,4026.1 622.2,4025.5 C624.2,4025.0 626.1,4024.5 628.0,4023.9 C629.9,4023.3 631.9,4022.7 633.8,4022.1 C635.7,4021.4 637.6,4020.7 639.4,4020.0 C641.3,4019.3 643.2,4018.5 645.0,4017.7 C646.8,4016.9 648.7,4016.0 650.5,4015.1 C652.2,4014.2 654.0,4013.2 655.8,4012.2 C657.5,4011.2 659.2,4010.1 660.9,4009.0 C662.6,4007.9 664.2,4006.8 665.9,4005.6 C667.5,4004.4 669.1,4003.2 670.7,4002.0 C672.3,4000.7 673.8,3999.5 675.4,3998.2 C676.9,3996.9 678.4,3995.6 680.0,3994.3 C681.5,3992.9 683.0,3991.6 684.5,3990.3 C686.0,3988.9 687.5,3987.6 688.9,3986.2 C690.4,3984.8 691.9,3983.5 693.4,3982.1 C694.9,3980.8 696.4,3979.4 697.8,3978.0 C699.3,3976.7 700.8,3975.3 702.3,3974.0 C703.8,3972.7 705.3,3971.3 706.9,3970.0 C708.4,3968.7 709.9,3967.4 711.5,3966.2 C713.1,3964.9 714.6,3963.6 716.3,3962.4 C717.9,3961.2 719.5,3960.0 721.1,3958.9 C722.8,3957.7 724.5,3956.6 726.2,3955.5 C727.9,3954.5 729.6,3953.5 731.4,3952.5 C733.1,3951.5 734.9,3950.6 736.7,3949.7 C738.6,3948.9 740.4,3948.1 742.3,3947.3 C744.1,3946.6 746.0,3945.9 747.9,3945.2 C749.8,3944.5 751.7,3943.9 753.6,3943.3 C755.6,3942.7 757.5,3942.1 759.4,3941.6 C761.4,3941.0 763.3,3940.5 765.3,3940.0 C767.2,3939.5 769.2,3939.1 771.1,3938.6 C773.1,3938.1 775.0,3937.6 777.0,3937.2 C778.9,3936.7 780.9,3936.3 782.9,3935.8 C784.8,3935.4 786.8,3934.9 788.7,3934.4 C790.7,3934.0 792.7,3933.5 794.6,3933.1 C796.6,3932.6 798.5,3932.2 800.5,3931.7 C802.5,3931.3 804.4,3930.8 806.4,3930.4 C808.3,3929.9 810.3,3929.5 812.3,3929.0 C814.2,3928.6 816.2,3928.2 818.2,3927.7 C820.1,3927.3 822.1,3926.9 824.1,3926.4 C826.0,3926.0 828.0,3925.6 830.0,3925.1 C831.9,3924.7 833.9,3924.3 835.9,3923.9 C837.8,3923.4 839.8,3923.0 841.8,3922.6 C843.7,3922.2 845.7,3921.8 847.7,3921.3 C849.6,3920.9 851.6,3920.5 853.6,3920.1 C855.5,3919.6 857.5,3919.2 859.5,3918.8 C861.4,3918.4 863.4,3917.9 865.3,3917.5 C867.3,3917.0 869.3,3916.6 871.2,3916.1 C873.2,3915.7 875.1,3915.2 877.1,3914.8 C879.1,3914.3 881.0,3913.8 883.0,3913.3 C884.9,3912.8 886.9,3912.3 888.8,3911.8 C890.8,3911.3 892.7,3910.8 894.6,3910.3 C896.6,3909.8 898.5,3909.2 900.5,3908.7 C902.4,3908.1 904.3,3907.6 906.3,3907.0 C908.2,3906.4 910.1,3905.8 912.0,3905.2 C913.9,3904.6 915.8,3904.0 917.8,3903.3 C919.7,3902.7 921.6,3902.0 923.5,3901.3 C925.3,3900.6 927.2,3900.0 929.1,3899.2 C931.0,3898.5 932.9,3897.8 934.7,3897.0 C936.6,3896.3 938.5,3895.5 940.3,3894.7 C942.2,3893.9 944.0,3893.1 945.8,3892.3 C947.7,3891.5 949.5,3890.6 951.3,3889.8 C953.1,3888.9 954.9,3888.0 956.7,3887.1 C958.5,3886.2 960.3,3885.3 962.1,3884.4 C963.9,3883.5 965.7,3882.5 967.5,3881.6 C969.2,3880.6 971.0,3879.7 972.8,3878.7 C974.5,3877.7 976.3,3876.7 978.0,3875.7 C979.8,3874.7 981.5,3873.7 983.2,3872.7 C984.9,3871.6 986.7,3870.6 988.4,3869.5 C990.1,3868.5 991.8,3867.4 993.5,3866.3 C995.2,3865.2 996.9,3864.2 998.6,3863.1 C1000.2,3861.9 1001.9,3860.8 1003.6,3859.7 C1005.3,3858.6 1006.9,3857.5 1008.6,3856.3 C1010.2,3855.2 1011.9,3854.0 1013.5,3852.9 C1015.2,3851.7 1016.8,3850.6 1018.5,3849.4 C1020.1,3848.2 1021.7,3847.0 1023.3,3845.8 C1025.0,3844.6 1026.6,3843.4 1028.2,3842.2 C1029.8,3841.0 1031.4,3839.8 1033.0,3838.6 C1034.6,3837.4 1036.2,3836.1 1037.8,3834.9 C1039.4,3833.7 1041.0,3832.4 1042.5,3831.2 C1044.1,3829.9 1045.7,3828.7 1047.2,3827.4 C1048.8,3826.2 1050.4,3824.9 1051.9,3823.6 C1053.5,3822.3 1055.0,3821.1 1056.6,3819.8 C1058.1,3818.5 1059.7,3817.2 1061.2,3815.9 C1062.7,3814.6 1064.3,3813.3 1065.8,3812.0 C1067.3,3810.7 1068.8,3809.4 1070.4,3808.0 C1071.9,3806.7 1073.4,3805.4 1074.9,3804.0 C1076.4,3802.7 1077.9,3801.4 1079.4,3800.0 C1080.9,3798.7 1082.4,3797.3 1083.9,3796.0 C1085.3,3794.6 1086.8,3793.2 1088.3,3791.9 C1089.8,3790.5 1091.2,3789.1 1092.7,3787.8 C1094.2,3786.4 1095.6,3785.0 1097.1,3783.6 C1098.5,3782.2 1100.0,3780.8 1101.4,3779.4 C1102.9,3778.0 1104.3,3776.6 1105.8,3775.2 C1107.2,3773.8 1108.6,3772.4 1110.1,3771.0 C1111.5,3769.6 1112.9,3768.1 1114.3,3766.7 C1115.8,3765.3 1117.2,3763.9 1118.6,3762.4 C1120.0,3761.0 1121.4,3759.6 1122.8,3758.1 C1124.2,3756.7 1125.6,3755.2 1127.0,3753.8 C1128.4,3752.3 1129.8,3750.9 1131.2,3749.4 C1132.6,3748.0 1134.0,3746.5 1135.4,3745.1 C1136.7,3743.6 1138.1,3742.1 1139.5,3740.7 C1140.9,3739.2 1142.3,3737.8 1143.7,3736.4 C1145.1,3734.9 1146.5,3733.5 1147.9,3732.1 C1149.4,3730.6 1150.8,3729.2 1152.2,3727.8 C1153.7,3726.4 1155.1,3725.0 1156.6,3723.6 C1158.1,3722.3 1159.6,3720.9 1161.1,3719.6 C1162.6,3718.2 1164.1,3716.9 1165.6,3715.6 C1167.2,3714.3 1168.7,3713.1 1170.3,3711.8 C1171.9,3710.6 1173.5,3709.3 1175.1,3708.2 C1176.7,3707.0 1178.4,3705.8 1180.0,3704.7 C1181.7,3703.5 1183.4,3702.5 1185.1,3701.4 C1186.8,3700.3 1188.6,3699.3 1190.3,3698.4 C1192.1,3697.4 1193.9,3696.5 1195.7,3695.6 C1197.5,3694.7 1199.3,3693.9 1201.2,3693.2 C1203.1,3692.4 1205.0,3691.7 1206.9,3691.2 C1208.8,3690.6 1210.8,3690.0 1212.7,3689.6 C1214.7,3689.2 1216.7,3688.9 1218.7,3688.7 C1220.7,3688.5 1222.7,3688.4 1224.7,3688.5 C1226.7,3688.5 1228.7,3688.7 1230.7,3689.0 C1232.7,3689.2 1234.7,3689.6 1236.7,3690.1 C1238.6,3690.6 1240.5,3691.2 1242.4,3691.8 C1244.3,3692.5 1246.2,3693.3 1248.0,3694.1 C1249.9,3694.9 1251.7,3695.8 1253.5,3696.7 C1255.2,3697.7 1257.0,3698.7 1258.7,3699.8 C1260.4,3700.9 1262.0,3702.0 1263.7,3703.2 C1265.3,3704.4 1266.9,3705.6 1268.4,3706.9 C1270.0,3708.1 1271.5,3709.5 1273.0,3710.8 C1274.5,3712.2 1275.9,3713.5 1277.4,3715.0 C1278.8,3716.4 1280.2,3717.8 1281.6,3719.3 C1282.9,3720.8 1284.3,3722.3 1285.6,3723.8 C1286.9,3725.3 1288.2,3726.9 1289.5,3728.4 C1290.7,3730.0 1292.0,3731.6 1293.2,3733.1 C1294.5,3734.7 1295.7,3736.3 1296.9,3737.9 C1298.1,3739.5 1299.3,3741.2 1300.5,3742.8 C1301.7,3744.4 1302.9,3746.0 1304.1,3747.6 C1305.3,3749.3 1306.5,3750.9 1307.6,3752.5 C1308.8,3754.1 1310.0,3755.8 1311.2,3757.4 C1312.4,3759.0 1313.5,3760.7 1314.7,3762.3 C1315.9,3763.9 1317.1,3765.6 1318.3,3767.2 C1319.4,3768.8 1320.6,3770.4 1321.8,3772.1 C1323.0,3773.7 1324.2,3775.3 1325.3,3777.0 C1326.5,3778.6 1327.7,3780.2 1328.9,3781.8 C1330.1,3783.4 1331.3,3785.1 1332.5,3786.7 C1333.7,3788.3 1334.9,3789.9 1336.1,3791.5 C1337.3,3793.1 1338.5,3794.7 1339.8,3796.3 C1341.0,3797.9 1342.2,3799.5 1343.4,3801.1 C1344.7,3802.7 1345.9,3804.3 1347.2,3805.8 C1348.4,3807.4 1349.7,3809.0 1350.9,3810.6 C1352.2,3812.1 1353.5,3813.7 1354.8,3815.2 C1356.1,3816.8 1357.4,3818.3 1358.7,3819.8 C1360.0,3821.3 1361.3,3822.9 1362.6,3824.4 C1364.0,3825.9 1365.3,3827.4 1366.7,3828.9 C1368.0,3830.3 1369.4,3831.8 1370.8,3833.3 C1372.2,3834.7 1373.6,3836.2 1375.0,3837.6 C1376.4,3839.0 1377.8,3840.5 1379.3,3841.9 C1380.7,3843.3 1382.1,3844.7 1383.6,3846.1 C1385.0,3847.5 1386.5,3848.8 1388.0,3850.2 C1389.5,3851.6 1391.0,3852.9 1392.5,3854.3 C1394.0,3855.6 1395.5,3856.9 1397.0,3858.2 C1398.5,3859.5 1400.1,3860.8 1401.6,3862.1 C1403.2,3863.4 1404.7,3864.7 1406.3,3865.9 C1407.9,3867.2 1409.5,3868.4 1411.0,3869.7 C1412.6,3870.9 1414.2,3872.1 1415.9,3873.3 C1417.5,3874.5 1419.1,3875.7 1420.7,3876.9 C1422.4,3878.1 1424.0,3879.2 1425.7,3880.4 C1427.3,3881.5 1429.0,3882.6 1430.6,3883.8 C1432.3,3884.9 1434.0,3886.0 1435.7,3887.1 C1437.4,3888.1 1439.1,3889.2 1440.8,3890.3 C1442.5,3891.4 1444.2,3892.4 1445.9,3893.4 C1447.7,3894.5 1449.4,3895.5 1451.1,3896.6 C1452.8,3897.6 1454.6,3898.6 1456.3,3899.6 C1458.0,3900.6 1459.8,3901.6 1461.5,3902.6 C1463.3,3903.6 1465.0,3904.6 1466.8,3905.6 C1468.5,3906.6 1470.3,3907.6 1472.0,3908.6 C1473.8,3909.6 1475.5,3910.6 1477.3,3911.6 C1479.0,3912.6 1480.8,3913.5 1482.5,3914.5 C1484.3,3915.5 1486.0,3916.5 1487.8,3917.5 C1489.5,3918.5 1491.3,3919.5 1493.0,3920.5 C1494.8,3921.5 1496.5,3922.5 1498.2,3923.6 C1500.0,3924.6 1501.7,3925.6 1503.4,3926.6 C1505.1,3927.7 1506.9,3928.7 1508.6,3929.8 C1510.3,3930.8 1512.0,3931.9 1513.7,3933.0 C1515.4,3934.1 1517.1,3935.1 1518.8,3936.2 C1520.5,3937.3 1522.1,3938.4 1523.8,3939.5 C1525.5,3940.7 1527.2,3941.8 1528.8,3942.9 C1530.5,3944.0 1532.2,3945.2 1533.8,3946.3 C1535.5,3947.5 1537.1,3948.6 1538.8,3949.8 C1540.4,3950.9 1542.1,3952.1 1543.7,3953.2 C1545.3,3954.4 1547.0,3955.6 1548.6,3956.8 C1550.2,3957.9 1551.9,3959.1 1553.5,3960.3 C1555.1,3961.5 1556.7,3962.7 1558.4,3963.9 C1560.0,3965.0 1561.6,3966.2 1563.2,3967.4 C1564.9,3968.6 1566.5,3969.8 1568.1,3971.0 C1569.7,3972.2 1571.3,3973.4 1572.9,3974.6 C1574.6,3975.8 1576.2,3977.0 1577.8,3978.2 C1579.4,3979.4 1581.0,3980.6 1582.7,3981.8 C1584.3,3983.0 1585.9,3984.2 1587.5,3985.3 C1589.1,3986.5 1590.8,3987.7 1592.4,3988.9 C1594.0,3990.1 1595.6,3991.3 1597.3,3992.4 C1598.9,3993.6 1600.5,3994.8 1602.2,3996.0 C1603.8,3997.1 1605.5,3998.3 1607.1,3999.5 C1608.8,4000.6 1610.4,4001.8 1612.1,4002.9 C1613.7,4004.1 1615.4,4005.2 1617.0,4006.3 C1618.7,4007.5 1620.4,4008.6 1622.0,4009.7 C1623.7,4010.8 1625.4,4011.9 1627.1,4013.0 C1628.8,4014.1 1630.4,4015.2 1632.1,4016.3 C1633.8,4017.4 1635.5,4018.5 1637.2,4019.5 C1638.9,4020.6 1640.6,4021.7 1642.4,4022.7 C1644.1,4023.8 1645.8,4024.8 1647.5,4025.8 C1649.3,4026.9 1651.0,4027.9 1652.7,4028.9 C1654.5,4029.9 1656.2,4030.9 1658.0,4031.9 C1659.7,4032.9 1661.5,4033.8 1663.3,4034.8 C1665.0,4035.7 1666.8,4036.7 1668.6,4037.6 C1670.4,4038.5 1672.2,4039.5 1674.0,4040.4 C1675.8,4041.3 1677.6,4042.2 1679.4,4043.0 C1681.2,4043.9 1683.0,4044.8 1684.8,4045.6 C1686.7,4046.5 1688.5,4047.3 1690.3,4048.1 C1692.2,4048.9 1694.0,4049.7 1695.9,4050.5 C1697.7,4051.3 1699.6,4052.0 1701.5,4052.8 C1703.3,4053.5 1705.2,4054.2 1707.1,4054.9 C1709.0,4055.6 1710.9,4056.3 1712.8,4057.0 C1714.7,4057.6 1716.6,4058.3 1718.5,4058.9 C1720.4,4059.5 1722.3,4060.1 1724.3,4060.7 C1726.2,4061.3 1728.1,4061.8 1730.1,4062.4 C1732.0,4062.9 1733.9,4063.4 1735.9,4063.9 C1737.8,4064.4 1739.8,4064.9 1741.8,4065.3 C1743.7,4065.8 1745.7,4066.2 1747.7,4066.6 C1749.6,4067.0 1751.6,4067.4 1753.6,4067.7 C1755.6,4068.1 1757.6,4068.4 1759.5,4068.7 C1761.5,4069.0 1763.5,4069.3 1765.5,4069.5 C1767.5,4069.8 1769.5,4070.0 1771.5,4070.2 C1773.5,4070.4 1775.5,4070.6 1777.5,4070.8 C1779.5,4070.9 1781.5,4071.1 1783.5,4071.2 C1785.6,4071.3 1787.6,4071.5 1789.6,4071.6 C1791.6,4071.7 1793.6,4071.7 1795.6,4071.8 C1797.6,4071.9 1799.6,4071.9 1801.6,4072.0 C1803.6,4072.0 1805.7,4072.1 1807.7,4072.1 C1809.7,4072.1 1811.7,4072.1 1813.7,4072.2 C1815.7,4072.2 1817.7,4072.2 1819.7,4072.2 C1821.8,4072.2 1823.8,4072.2 1825.8,4072.2 C1827.8,4072.2 1829.8,4072.2 1831.8,4072.2 C1833.8,4072.2 1835.8,4072.2 1837.8,4072.2 C1839.9,4072.2 1841.9,4072.2 1843.9,4072.2 C1845.9,4072.1 1847.9,4072.1 1849.9,4072.1 C1851.9,4072.1 1853.9,4072.1 1856.0,4072.1 C1858.0,4072.1 1860.0,4072.1 1862.0,4072.0 C1864.0,4072.0 1866.0,4072.0 1868.0,4072.0 C1870.0,4071.9 1872.0,4071.9 1874.1,4071.8 C1876.1,4071.8 1878.1,4071.8 1880.1,4071.7 C1882.1,4071.7 1884.1,4071.6 1886.1,4071.5 C1888.1,4071.5 1890.1,4071.4 1892.2,4071.3 C1894.2,4071.2 1896.2,4071.2 1898.2,4071.1 C1900.2,4071.0 1902.2,4070.9 1904.2,4070.8 C1906.2,4070.6 1908.2,4070.5 1910.2,4070.4 C1912.2,4070.3 1914.3,4070.1 1916.3,4070.0 C1918.3,4069.8 1920.3,4069.7 1922.3,4069.5 C1924.3,4069.3 1926.3,4069.1 1928.3,4069.0 C1930.3,4068.8 1932.3,4068.6 1934.3,4068.3 C1936.3,4068.1 1938.3,4067.9 1940.3,4067.7 C1942.3,4067.4 1944.3,4067.2 1946.3,4066.9 C1948.3,4066.6 1950.3,4066.3 1952.2,4066.0 C1954.2,4065.8 1956.2,4065.4 1958.2,4065.1 C1960.2,4064.8 1962.2,4064.5 1964.2,4064.1 C1966.1,4063.8 1968.1,4063.4 1970.1,4063.0 C1972.1,4062.6 1975.0,4062.0 1976.0,4061.8"/>
<path d="M329.9,4068.5 C330.9,4068.4 333.8,4068.0 335.8,4067.8 C337.8,4067.5 339.8,4067.3 341.8,4067.0 C343.8,4066.8 345.8,4066.5 347.8,4066.3 C349.8,4066.0 351.8,4065.8 353.8,4065.5 C355.8,4065.3 357.7,4065.0 359.7,4064.8 C361.7,4064.5 363.7,4064.2 365.7,4064.0 C367.7,4063.7 369.7,4063.4 371.7,4063.1 C373.7,4062.9 375.6,4062.6 377.6,4062.3 C379.6,4062.0 381.6,4061.7 383.6,4061.5 C385.6,4061.2 387.6,4060.9 389.6,4060.6 C391.5,4060.3 393.5,4060.0 395.5,4059.6 C397.5,4059.3 399.5,4059.0 401.4,4058.7 C403.4,4058.4 405.4,4058.0 407.4,4057.7 C409.4,4057.4 411.3,4057.0 413.3,4056.7 C415.3,4056.3 417.3,4056.0 419.2,4055.6 C421.2,4055.2 423.2,4054.9 425.2,4054.5 C427.1,4054.1 429.1,4053.7 431.1,4053.3 C433.0,4052.9 435.0,4052.5 437.0,4052.1 C438.9,4051.7 440.9,4051.3 442.9,4050.8 C444.8,4050.4 446.8,4050.0 448.7,4049.5 C450.7,4049.1 452.6,4048.6 454.6,4048.1 C456.5,4047.7 458.5,4047.2 460.4,4046.7 C462.4,4046.2 464.3,4045.7 466.3,4045.2 C468.2,4044.7 470.2,4044.2 472.1,4043.6 C474.0,4043.1 476.0,4042.5 477.9,4042.0 C479.8,4041.4 481.7,4040.9 483.7,4040.3 C485.6,4039.7 487.5,4039.1 489.4,4038.5 C491.3,4037.9 493.2,4037.3 495.1,4036.6 C497.0,4036.0 499.0,4035.4 500.8,4034.7 C502.7,4034.1 504.6,4033.4 506.5,4032.7 C508.4,4032.0 510.3,4031.3 512.2,4030.6 C514.0,4029.9 515.9,4029.2 517.8,4028.4 C519.6,4027.7 521.5,4026.9 523.4,4026.1 C525.2,4025.4 527.1,4024.6 528.9,4023.8 C530.7,4023.0 532.6,4022.2 534.4,4021.3 C536.2,4020.5 538.0,4019.6 539.8,4018.8 C541.7,4017.9 543.5,4017.0 545.3,4016.1 C547.0,4015.2 548.8,4014.3 550.6,4013.4 C552.4,4012.4 554.2,4011.5 555.9,4010.5 C557.7,4009.6 559.4,4008.6 561.2,4007.6 C562.9,4006.6 564.7,4005.6 566.4,4004.6 C568.1,4003.6 569.9,4002.6 571.6,4001.5 C573.3,4000.5 575.0,3999.5 576.8,3998.5 C578.5,3997.4 580.2,3996.4 581.9,3995.3 C583.6,3994.3 585.3,3993.3 587.1,3992.2 C588.8,3991.2 590.5,3990.1 592.2,3989.1 C593.9,3988.1 595.7,3987.0 597.4,3986.0 C599.1,3985.0 600.8,3984.0 602.6,3983.0 C604.3,3982.0 606.1,3981.0 607.8,3980.0 C609.6,3979.0 611.3,3978.1 613.1,3977.1 C614.9,3976.2 616.7,3975.3 618.5,3974.4 C620.3,3973.4 622.1,3972.6 623.8,3971.6 C625.6,3970.6 627.3,3969.6 629.0,3968.5 C630.6,3967.4 632.2,3966.1 633.8,3964.9 C635.3,3963.6 636.8,3962.2 638.3,3960.8 C639.7,3959.5 641.1,3958.0 642.6,3956.6 C644.0,3955.2 645.4,3953.8 646.8,3952.4 C648.3,3951.0 649.7,3949.6 651.2,3948.2 C652.7,3946.9 654.2,3945.6 655.7,3944.3 C657.3,3943.0 658.8,3941.7 660.4,3940.5 C662.0,3939.2 663.6,3938.0 665.1,3936.8 C666.7,3935.5 668.3,3934.3 669.9,3933.1 C671.5,3931.8 673.1,3930.6 674.7,3929.4 C676.2,3928.1 677.8,3926.9 679.4,3925.6 C681.0,3924.4 682.5,3923.1 684.1,3921.9 C685.7,3920.6 687.2,3919.4 688.8,3918.1 C690.4,3916.9 691.9,3915.6 693.5,3914.3 C695.0,3913.1 696.6,3911.8 698.1,3910.5 C699.7,3909.3 701.3,3908.0 702.8,3906.7 C704.4,3905.4 705.9,3904.2 707.5,3902.9 C709.0,3901.6 710.5,3900.3 712.1,3899.0 C713.6,3897.8 715.2,3896.5 716.7,3895.2 C718.3,3893.9 719.8,3892.6 721.3,3891.3 C722.9,3890.0 724.4,3888.8 726.0,3887.5 C727.5,3886.2 729.1,3884.9 730.6,3883.6 C732.2,3882.4 733.7,3881.1 735.3,3879.8 C736.8,3878.6 738.4,3877.3 740.0,3876.1 C741.6,3874.8 743.2,3873.6 744.7,3872.4 C746.3,3871.2 747.9,3869.9 749.5,3868.8 C751.2,3867.6 752.8,3866.4 754.4,3865.2 C756.0,3864.0 757.7,3862.9 759.3,3861.8 C761.0,3860.6 762.7,3859.5 764.4,3858.4 C766.0,3857.3 767.7,3856.2 769.4,3855.1 C771.1,3854.1 772.8,3853.0 774.5,3851.9 C776.1,3850.8 777.8,3849.7 779.5,3848.5 C781.1,3847.4 782.8,3846.2 784.4,3845.0 C786.0,3843.8 787.5,3842.5 789.1,3841.2 C790.6,3840.0 792.1,3838.6 793.6,3837.3 C795.1,3835.9 796.5,3834.6 798.0,3833.2 C799.4,3831.8 800.9,3830.4 802.3,3829.0 C803.7,3827.5 805.1,3826.1 806.6,3824.7 C808.0,3823.3 809.4,3821.8 810.8,3820.4 C812.2,3819.0 813.6,3817.5 815.0,3816.1 C816.4,3814.7 817.8,3813.2 819.2,3811.8 C820.6,3810.3 822.0,3808.9 823.4,3807.5 C824.8,3806.0 826.2,3804.6 827.6,3803.1 C829.0,3801.7 830.4,3800.3 831.8,3798.8 C833.2,3797.4 834.6,3795.9 836.0,3794.5 C837.4,3793.1 838.8,3791.6 840.2,3790.2 C841.6,3788.8 843.0,3787.3 844.4,3785.9 C845.8,3784.5 847.3,3783.1 848.7,3781.7 C850.1,3780.3 851.5,3778.8 853.0,3777.4 C854.4,3776.0 855.9,3774.6 857.3,3773.3 C858.8,3771.9 860.2,3770.5 861.7,3769.1 C863.1,3767.7 864.6,3766.4 866.1,3765.0 C867.6,3763.6 869.0,3762.3 870.5,3760.9 C872.0,3759.6 873.5,3758.2 875.0,3756.9 C876.5,3755.6 878.0,3754.2 879.5,3752.9 C881.0,3751.6 882.5,3750.3 884.0,3749.0 C885.6,3747.6 887.1,3746.3 888.6,3745.0 C890.1,3743.7 891.7,3742.4 893.2,3741.2 C894.8,3739.9 896.3,3738.6 897.8,3737.3 C899.4,3736.0 900.9,3734.7 902.5,3733.5 C904.1,3732.2 905.6,3730.9 907.2,3729.7 C908.8,3728.4 910.3,3727.2 911.9,3725.9 C913.5,3724.7 915.0,3723.4 916.6,3722.2 C918.2,3721.0 919.8,3719.7 921.4,3718.5 C923.0,3717.3 924.6,3716.1 926.2,3714.8 C927.7,3713.6 929.3,3712.4 930.9,3711.2 C932.6,3710.0 934.2,3708.8 935.8,3707.6 C937.4,3706.4 939.0,3705.2 940.6,3704.0 C942.2,3702.8 943.8,3701.6 945.4,3700.4 C947.1,3699.2 948.7,3698.1 950.3,3696.9 C951.9,3695.7 953.6,3694.5 955.2,3693.3 C956.8,3692.2 958.5,3691.0 960.1,3689.8 C961.7,3688.7 963.4,3687.5 965.0,3686.3 C966.6,3685.2 968.3,3684.0 969.9,3682.8 C971.5,3681.7 973.2,3680.5 974.8,3679.4 C976.5,3678.2 978.1,3677.1 979.7,3675.9 C981.4,3674.8 983.0,3673.6 984.7,3672.4 C986.3,3671.3 988.0,3670.1 989.6,3669.0 C991.3,3667.8 992.9,3666.7 994.5,3665.5 C996.2,3664.4 997.8,3663.2 999.5,3662.1 C1001.1,3660.9 1002.8,3659.8 1004.4,3658.6 C1006.1,3657.5 1007.7,3656.3 1009.3,3655.2 C1011.0,3654.0 1012.6,3652.9 1014.3,3651.7 C1015.9,3650.6 1017.6,3649.4 1019.2,3648.3 C1020.8,3647.1 1022.5,3646.0 1024.1,3644.8 C1025.8,3643.6 1027.4,3642.5 1029.0,3641.3 C1030.7,3640.2 1032.3,3639.0 1033.9,3637.8 C1035.6,3636.7 1037.2,3635.5 1038.8,3634.3 C1040.5,3633.1 1042.1,3632.0 1043.7,3630.8 C1045.3,3629.6 1047.0,3628.4 1048.6,3627.2 C1050.2,3626.1 1051.8,3624.9 1053.4,3623.7 C1055.1,3622.5 1056.7,3621.3 1058.3,3620.1 C1059.9,3618.9 1061.5,3617.7 1063.1,3616.5 C1064.7,3615.3 1066.3,3614.1 1067.9,3612.9 C1069.6,3611.7 1071.2,3610.5 1072.8,3609.3 C1074.4,3608.2 1076.0,3607.0 1077.7,3605.8 C1079.3,3604.6 1080.9,3603.5 1082.6,3602.3 C1084.2,3601.2 1085.9,3600.1 1087.6,3599.0 C1089.2,3597.8 1090.9,3596.7 1092.6,3595.7 C1094.3,3594.6 1096.0,3593.5 1097.7,3592.5 C1099.5,3591.5 1101.2,3590.4 1102.9,3589.5 C1104.7,3588.5 1106.5,3587.5 1108.2,3586.6 C1110.0,3585.7 1111.8,3584.8 1113.6,3583.9 C1115.4,3583.0 1117.3,3582.2 1119.1,3581.4 C1121.0,3580.6 1122.8,3579.9 1124.7,3579.2 C1126.6,3578.5 1128.5,3577.8 1130.4,3577.2 C1132.3,3576.6 1134.2,3576.0 1136.1,3575.5 C1138.1,3574.9 1140.0,3574.5 1142.0,3574.0 C1144.0,3573.6 1145.9,3573.2 1147.9,3572.9 C1149.9,3572.6 1151.9,3572.3 1153.9,3572.2 C1155.9,3572.0 1157.9,3571.8 1159.9,3571.8 C1161.9,3571.7 1163.9,3571.7 1165.9,3571.8 C1167.9,3571.9 1169.9,3572.1 1171.9,3572.4 C1173.9,3572.6 1175.9,3573.0 1177.8,3573.4 C1179.8,3573.9 1181.7,3574.4 1183.6,3575.0 C1185.5,3575.7 1187.4,3576.4 1189.2,3577.2 C1191.1,3578.1 1192.9,3579.0 1194.6,3579.9 C1196.4,3580.9 1198.1,3581.9 1199.8,3583.0 C1201.5,3584.1 1203.1,3585.2 1204.8,3586.4 C1206.4,3587.6 1208.0,3588.8 1209.6,3590.1 C1211.1,3591.3 1212.7,3592.6 1214.2,3593.9 C1215.7,3595.2 1217.2,3596.5 1218.7,3597.9 C1220.2,3599.2 1221.7,3600.6 1223.1,3602.0 C1224.6,3603.3 1226.1,3604.7 1227.5,3606.1 C1229.0,3607.5 1230.4,3608.9 1231.8,3610.3 C1233.3,3611.7 1234.7,3613.1 1236.1,3614.6 C1237.5,3616.0 1238.9,3617.4 1240.3,3618.8 C1241.7,3620.3 1243.1,3621.7 1244.5,3623.2 C1245.9,3624.6 1247.3,3626.0 1248.7,3627.5 C1250.1,3629.0 1251.5,3630.4 1252.8,3631.9 C1254.2,3633.3 1255.6,3634.8 1257.0,3636.2 C1258.4,3637.7 1259.7,3639.2 1261.1,3640.6 C1262.5,3642.1 1263.9,3643.6 1265.2,3645.0 C1266.6,3646.5 1268.0,3647.9 1269.4,3649.4 C1270.7,3650.9 1272.1,3652.3 1273.5,3653.8 C1274.9,3655.2 1276.3,3656.7 1277.7,3658.1 C1279.1,3659.6 1280.5,3661.0 1281.9,3662.4 C1283.3,3663.9 1284.7,3665.3 1286.1,3666.7 C1287.5,3668.2 1288.9,3669.6 1290.3,3671.0 C1291.8,3672.4 1293.2,3673.8 1294.7,3675.2 C1296.1,3676.6 1297.6,3678.0 1299.0,3679.4 C1300.5,3680.7 1301.9,3682.1 1303.4,3683.5 C1304.9,3684.8 1306.4,3686.2 1307.9,3687.5 C1309.4,3688.8 1310.9,3690.2 1312.4,3691.5 C1313.9,3692.8 1315.5,3694.1 1317.0,3695.4 C1318.6,3696.6 1320.1,3697.9 1321.7,3699.2 C1323.2,3700.4 1324.8,3701.7 1326.4,3702.9 C1328.0,3704.1 1329.6,3705.3 1331.2,3706.5 C1332.8,3707.7 1334.4,3708.9 1336.1,3710.1 C1337.7,3711.2 1339.4,3712.4 1341.0,3713.5 C1342.7,3714.6 1344.4,3715.7 1346.1,3716.8 C1347.8,3717.9 1349.5,3719.0 1351.2,3720.0 C1352.9,3721.0 1354.6,3722.0 1356.4,3723.0 C1358.1,3724.0 1359.9,3725.0 1361.7,3725.9 C1363.4,3726.9 1365.2,3727.8 1367.0,3728.7 C1368.8,3729.6 1370.6,3730.4 1372.5,3731.2 C1374.3,3732.1 1376.1,3732.9 1378.0,3733.7 C1379.8,3734.4 1381.7,3735.2 1383.5,3735.9 C1385.4,3736.7 1387.3,3737.4 1389.2,3738.1 C1391.0,3738.8 1392.9,3739.5 1394.8,3740.1 C1396.7,3740.8 1398.6,3741.5 1400.5,3742.1 C1402.4,3742.7 1404.3,3743.3 1406.3,3743.9 C1408.2,3744.6 1410.1,3745.2 1412.0,3745.7 C1413.9,3746.3 1415.8,3746.9 1417.8,3747.5 C1419.7,3748.1 1421.6,3748.6 1423.6,3749.2 C1425.5,3749.7 1427.4,3750.3 1429.3,3750.9 C1431.3,3751.4 1433.2,3752.0 1435.1,3752.5 C1437.0,3753.1 1439.0,3753.6 1440.9,3754.2 C1442.8,3754.8 1444.8,3755.3 1446.7,3755.9 C1448.6,3756.5 1450.5,3757.0 1452.5,3757.6 C1454.4,3758.2 1456.3,3758.8 1458.2,3759.4 C1460.1,3760.0 1462.0,3760.6 1463.9,3761.3 C1465.8,3761.9 1467.7,3762.5 1469.6,3763.2 C1471.5,3763.8 1473.4,3764.5 1475.3,3765.1 C1477.2,3765.8 1479.1,3766.5 1481.0,3767.2 C1482.9,3767.9 1484.8,3768.6 1486.6,3769.3 C1488.5,3770.0 1490.4,3770.8 1492.2,3771.5 C1494.1,3772.3 1496.0,3773.0 1497.8,3773.8 C1499.7,3774.6 1501.5,3775.3 1503.4,3776.1 C1505.2,3776.9 1507.0,3777.7 1508.9,3778.6 C1510.7,3779.4 1512.5,3780.2 1514.4,3781.0 C1516.2,3781.9 1518.0,3782.7 1519.8,3783.6 C1521.6,3784.5 1523.4,3785.4 1525.2,3786.3 C1527.0,3787.2 1528.8,3788.1 1530.6,3789.0 C1532.4,3789.9 1534.2,3790.8 1535.9,3791.8 C1537.7,3792.7 1539.5,3793.7 1541.2,3794.7 C1543.0,3795.6 1544.7,3796.6 1546.5,3797.6 C1548.2,3798.6 1549.9,3799.6 1551.7,3800.7 C1553.4,3801.7 1555.1,3802.7 1556.8,3803.8 C1558.5,3804.8 1560.2,3805.9 1561.9,3807.0 C1563.6,3808.0 1565.3,3809.1 1567.0,3810.2 C1568.6,3811.3 1570.3,3812.5 1572.0,3813.6 C1573.6,3814.7 1575.3,3815.9 1576.9,3817.0 C1578.6,3818.2 1580.2,3819.3 1581.8,3820.5 C1583.5,3821.7 1585.1,3822.9 1586.7,3824.1 C1588.3,3825.3 1589.9,3826.5 1591.5,3827.7 C1593.1,3828.9 1594.7,3830.1 1596.3,3831.4 C1597.8,3832.6 1599.4,3833.9 1601.0,3835.1 C1602.5,3836.4 1604.1,3837.7 1605.6,3838.9 C1607.2,3840.2 1608.7,3841.5 1610.3,3842.8 C1611.8,3844.1 1613.3,3845.4 1614.9,3846.7 C1616.4,3848.0 1617.9,3849.3 1619.4,3850.6 C1620.9,3852.0 1622.4,3853.3 1623.9,3854.6 C1625.4,3856.0 1626.9,3857.3 1628.4,3858.7 C1629.9,3860.0 1631.3,3861.4 1632.8,3862.7 C1634.3,3864.1 1635.8,3865.5 1637.2,3866.9 C1638.7,3868.2 1640.1,3869.6 1641.6,3871.0 C1643.0,3872.4 1644.5,3873.8 1645.9,3875.2 C1647.3,3876.6 1648.8,3878.0 1650.2,3879.4 C1651.6,3880.8 1653.1,3882.2 1654.5,3883.7 C1655.9,3885.1 1657.3,3886.5 1658.7,3887.9 C1660.1,3889.4 1661.5,3890.8 1662.9,3892.2 C1664.3,3893.7 1665.7,3895.1 1667.1,3896.6 C1668.5,3898.0 1669.9,3899.4 1671.3,3900.9 C1672.7,3902.3 1674.1,3903.8 1675.5,3905.2 C1676.8,3906.7 1678.2,3908.2 1679.6,3909.6 C1681.0,3911.1 1682.4,3912.5 1683.8,3914.0 C1685.2,3915.4 1686.5,3916.9 1687.9,3918.3 C1689.3,3919.8 1690.7,3921.2 1692.1,3922.7 C1693.5,3924.1 1694.9,3925.6 1696.2,3927.0 C1697.6,3928.5 1699.0,3929.9 1700.4,3931.4 C1701.8,3932.8 1703.2,3934.2 1704.6,3935.7 C1706.0,3937.1 1707.4,3938.5 1708.9,3940.0 C1710.3,3941.4 1711.7,3942.8 1713.1,3944.2 C1714.5,3945.6 1716.0,3947.1 1717.4,3948.5 C1718.8,3949.9 1720.3,3951.3 1721.7,3952.6 C1723.2,3954.0 1724.6,3955.4 1726.1,3956.8 C1727.6,3958.2 1729.0,3959.5 1730.5,3960.9 C1732.0,3962.2 1733.5,3963.6 1735.0,3964.9 C1736.5,3966.3 1738.0,3967.6 1739.5,3968.9 C1741.0,3970.2 1742.5,3971.5 1744.1,3972.8 C1745.6,3974.1 1747.1,3975.4 1748.7,3976.7 C1750.3,3977.9 1751.8,3979.2 1753.4,3980.4 C1755.0,3981.7 1756.6,3982.9 1758.2,3984.1 C1759.8,3985.4 1761.4,3986.6 1763.0,3987.7 C1764.6,3988.9 1766.2,3990.1 1767.9,3991.3 C1769.5,3992.4 1771.2,3993.6 1772.8,3994.7 C1774.5,3995.8 1776.2,3996.9 1777.8,3998.0 C1779.5,3999.1 1781.2,4000.2 1782.9,4001.2 C1784.6,4002.3 1786.3,4003.3 1788.1,4004.4 C1789.8,4005.4 1791.5,4006.4 1793.3,4007.4 C1795.0,4008.4 1796.8,4009.4 1798.5,4010.3 C1800.3,4011.3 1802.1,4012.2 1803.9,4013.1 C1805.7,4014.0 1807.4,4014.9 1809.3,4015.8 C1811.1,4016.7 1812.9,4017.6 1814.7,4018.4 C1816.5,4019.3 1818.3,4020.1 1820.2,4020.9 C1822.0,4021.8 1823.8,4022.6 1825.7,4023.4 C1827.5,4024.2 1829.4,4024.9 1831.2,4025.7 C1833.1,4026.5 1834.9,4027.2 1836.8,4027.9 C1838.7,4028.7 1840.5,4029.4 1842.4,4030.1 C1844.3,4030.8 1846.2,4031.5 1848.1,4032.2 C1849.9,4032.9 1851.8,4033.6 1853.7,4034.3 C1855.6,4034.9 1857.5,4035.6 1859.4,4036.2 C1861.3,4036.9 1863.2,4037.5 1865.1,4038.2 C1867.0,4038.8 1868.9,4039.4 1870.8,4040.0 C1872.8,4040.6 1874.7,4041.3 1876.6,4041.9 C1878.5,4042.4 1880.4,4043.0 1882.3,4043.6 C1884.3,4044.2 1886.2,4044.8 1888.1,4045.4 C1890.0,4046.0 1892.0,4046.5 1893.9,4047.1 C1895.8,4047.7 1897.7,4048.2 1899.7,4048.8 C1901.6,4049.3 1903.5,4049.9 1905.4,4050.5 C1907.4,4051.0 1909.3,4051.6 1911.2,4052.1 C1913.2,4052.7 1915.1,4053.2 1917.0,4053.8 C1918.9,4054.4 1920.9,4054.9 1922.8,4055.5 C1924.7,4056.0 1926.7,4056.6 1928.6,4057.1 C1930.5,4057.7 1932.5,4058.2 1934.4,4058.7 C1936.3,4059.3 1938.3,4059.8 1940.2,4060.3 C1942.2,4060.7 1944.1,4061.2 1946.1,4061.6 C1948.1,4062.0 1950.0,4062.4 1952.0,4062.7 C1954.0,4063.0 1956.0,4063.3 1958.0,4063.6 C1960.0,4063.8 1962.0,4063.9 1964.0,4064.0 C1966.0,4064.1 1968.0,4064.1 1970.0,4064.1 C1972.0,4064.0 1975.0,4063.8 1976.0,4063.7" stroke-dasharray="22 11.5 4.5 11.5"/>
</g>
<g stroke="#000" stroke-width="3.4" fill="none"><line x1="315.3" y1="4072.2" x2="315.3" y2="4093.2"/><line x1="579.0" y1="4072.2" x2="579.0" y2="4093.2"/><line x1="842.8" y1="4072.2" x2="842.8" y2="4093.2"/><line x1="1106.5" y1="4072.2" x2="1106.5" y2="4093.2"/><line x1="1370.3" y1="4072.2" x2="1370.3" y2="4093.2"/><line x1="1634.0" y1="4072.2" x2="1634.0" y2="4093.2"/><line x1="1897.8" y1="4072.2" x2="1897.8" y2="4093.2"/><line x1="447.2" y1="4072.2" x2="447.2" y2="4082.7"/><line x1="710.9" y1="4072.2" x2="710.9" y2="4082.7"/><line x1="974.7" y1="4072.2" x2="974.7" y2="4082.7"/><line x1="1238.4" y1="4072.2" x2="1238.4" y2="4082.7"/><line x1="1502.2" y1="4072.2" x2="1502.2" y2="4082.7"/><line x1="1765.9" y1="4072.2" x2="1765.9" y2="4082.7"/><line x1="241.3" y1="4072.2" x2="263.3" y2="4072.2"/><line x1="241.3" y1="3661.1" x2="263.3" y2="3661.1"/><line x1="241.3" y1="3250.1" x2="263.3" y2="3250.1"/><line x1="241.3" y1="2839.0" x2="263.3" y2="2839.0"/><line x1="252.3" y1="3866.7" x2="263.3" y2="3866.7"/><line x1="252.3" y1="3455.6" x2="263.3" y2="3455.6"/><line x1="252.3" y1="3044.5" x2="263.3" y2="3044.5"/></g>
<rect x="263.3" y="2839.0" width="1714.2" height="1233.2" fill="none" stroke="#000" stroke-width="4.3"/>
<text transform="translate(315.3,4153.7) scale(1,1.040)" font-size="56" text-anchor="middle">100</text><text transform="translate(579.0,4153.7) scale(1,1.040)" font-size="56" text-anchor="middle">200</text><text transform="translate(842.8,4153.7) scale(1,1.040)" font-size="56" text-anchor="middle">300</text><text transform="translate(1106.5,4153.7) scale(1,1.040)" font-size="56" text-anchor="middle">400</text><text transform="translate(1370.3,4153.7) scale(1,1.040)" font-size="56" text-anchor="middle">500</text><text transform="translate(1634.0,4153.7) scale(1,1.040)" font-size="56" text-anchor="middle">600</text><text transform="translate(1897.8,4153.7) scale(1,1.040)" font-size="56" text-anchor="middle">700</text><text transform="translate(225.5,4089.2) scale(1,1.040)" font-size="56" text-anchor="end">0</text><text transform="translate(225.5,3678.1) scale(1,1.040)" font-size="56" text-anchor="end">100</text><text transform="translate(225.5,3267.1) scale(1,1.040)" font-size="56" text-anchor="end">200</text><text transform="translate(225.5,2856.0) scale(1,1.040)" font-size="56" text-anchor="end">300</text>
<text transform="translate(315.0,3049.0) scale(1,1.040)" font-size="205">C</text>
<line x1="1426.5" y1="3080.4" x2="1560" y2="3080.4" stroke="#008000" stroke-width="3.8"/>
<line x1="1426.5" y1="3150.9" x2="1560" y2="3150.9" stroke="#008000" stroke-width="3.8" stroke-dasharray="26 11.5 5 11.5"/>
<text transform="translate(1570.5,3100.4) scale(1,1.040)" font-size="56" letter-spacing="1.3">FeMn</text>
<text transform="translate(1570.5,3170.9) scale(1,1.040)" font-size="56" letter-spacing="1.3">Fe+Mn</text>
<text transform="translate(86.0,3457.2) rotate(-90) scale(1,1.040)" font-size="56" text-anchor="middle">H<tspan font-size="40" dy="14">2</tspan><tspan dy="-14" letter-spacing="0.7"> consumption /</tspan>  nmol<tspan dx="-2">·</tspan><tspan dx="-2">s</tspan><tspan font-size="40" dy="-22" dx="-2">−</tspan><tspan font-size="40">1</tspan><tspan dy="22" dx="-2">·</tspan><tspan dx="-2">g</tspan><tspan font-size="40" dy="-22" dx="-2">−</tspan><tspan font-size="40">1</tspan></text>
<line x1="1815.9" y1="3488.0" x2="1815.9" y2="3824.5" stroke="#000" stroke-width="5"/>
<path d="M1815.9,3449.5 L1806.2,3490.0 L1825.6,3490.0 Z M1815.9,3863.0 L1806.2,3822.5 L1825.6,3822.5 Z" fill="#000"/>
<text transform="translate(1920.2,3653.0) rotate(-90) scale(1,1.040)" font-size="56" text-anchor="middle">100 nmol<tspan dx="-0.4">·</tspan><tspan dx="-0.4">s</tspan><tspan font-size="40" dy="-22" dx="-0.4">−</tspan><tspan font-size="40">1</tspan><tspan dy="22" dx="-0.4">·</tspan><tspan dx="-0.4">g</tspan><tspan font-size="40" dy="-22" dx="-0.4">−</tspan><tspan font-size="40">1</tspan></text>
<text transform="translate(742.0,3811.2) rotate(-90) scale(1,1.040)" font-size="52" text-anchor="middle">~250</text>
<text transform="translate(781.9,4006.7) rotate(-90) scale(1,1.040)" font-size="52" text-anchor="middle">260</text>
<text transform="translate(1178.3,3503.6) rotate(-90) scale(1,1.040)" font-size="52" text-anchor="middle">420</text>
<text transform="translate(1228.6,3770.4) rotate(-90) scale(1,1.040)" font-size="52" text-anchor="middle">460</text>
<text transform="translate(1523.8,3688.0) rotate(-90) scale(1,1.040)" font-size="52" text-anchor="middle">~550</text>
<text transform="translate(1495.6,3992.9) rotate(-90) scale(1,1.040)" font-size="52" text-anchor="middle">~540</text>
<text transform="translate(1119.5,4255.0) scale(1,1.040)" font-size="58.5" text-anchor="middle">Temperature / °C</text>
</svg></body></html>
